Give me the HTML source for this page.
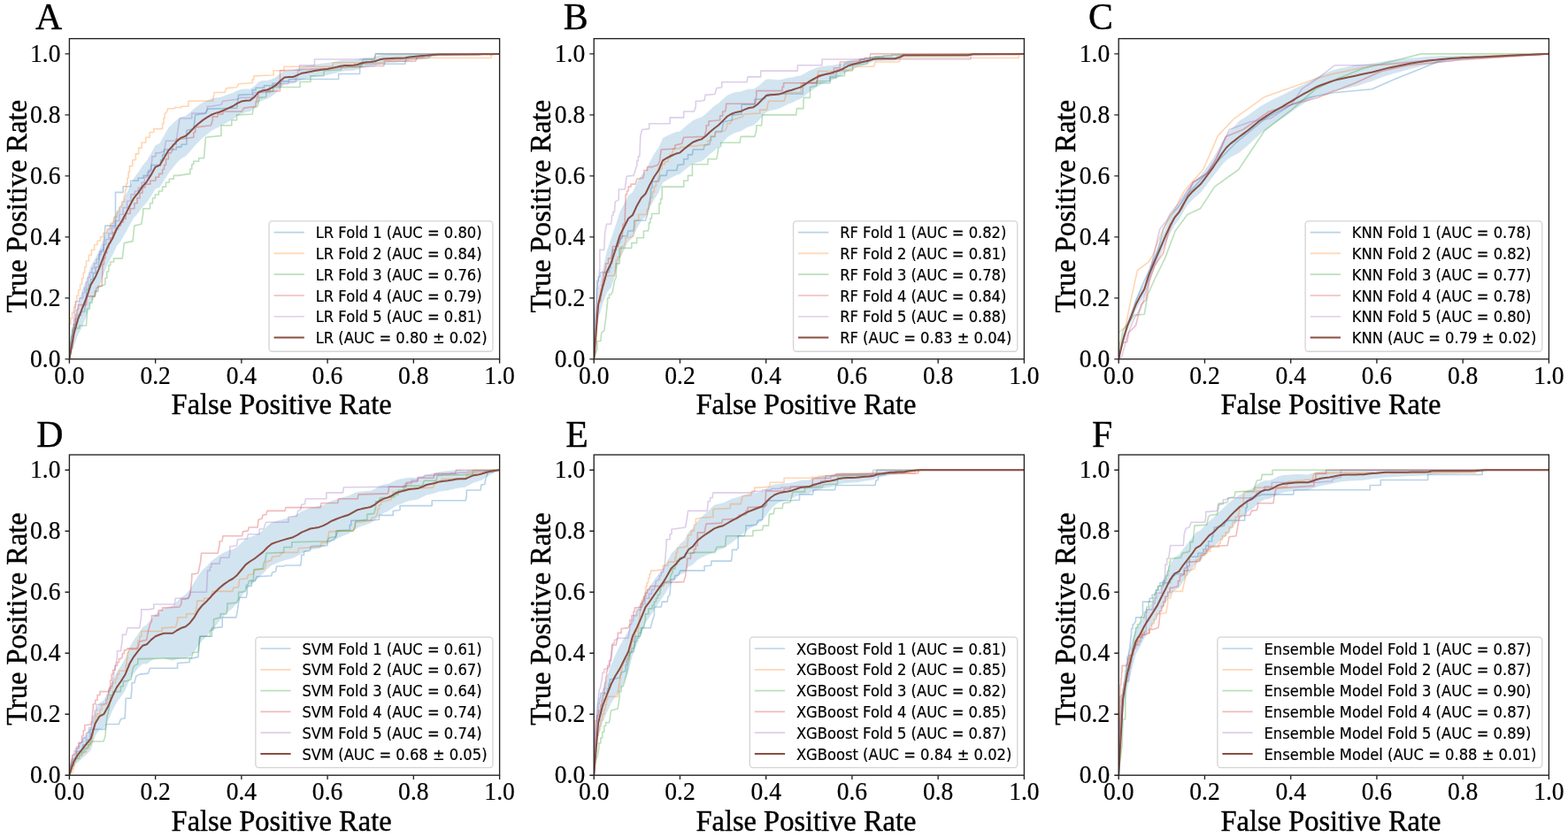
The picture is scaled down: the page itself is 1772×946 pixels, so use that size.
<!DOCTYPE html><html><head><meta charset="utf-8"><style>html,body{margin:0;padding:0;background:#fff;}svg{display:block}.tk{font-family:"Liberation Serif","Times New Roman",serif;font-size:27.6px;fill:#000;stroke:#000;stroke-width:0.2px}.lb{font-family:"Liberation Serif","Times New Roman",serif;font-size:32.5px;fill:#000;stroke:#000;stroke-width:0.4px}.pl{font-family:"Liberation Serif","Times New Roman",serif;font-size:41.8px;fill:#000;stroke:#000;stroke-width:0.4px}.lg{font-family:"DejaVu Sans",sans-serif;font-size:16.35px;fill:#000;stroke:#000;stroke-width:0.2px}</style></head><body>
<svg width="1772" height="946" viewBox="0 0 1772 946">
<rect width="1772" height="946" fill="#fff"/>
<g><clipPath id="clipA"><rect x="78.40" y="43.65" width="486.20" height="362.20"/></clipPath><g clip-path="url(#clipA)"><polygon fill="#1f77b4" fill-opacity="0.2" points="78.4,405.8 83.3,364.3 88.1,343.7 93.0,327.7 97.8,315.4 102.7,300.5 107.6,292.3 112.4,281.9 117.3,269.1 122.2,258.3 127.0,250.8 131.9,238.9 136.7,231.2 141.6,221.6 146.5,211.1 151.3,201.3 156.2,195.1 161.1,187.3 165.9,181.5 170.8,173.3 175.6,164.2 180.5,161.7 185.4,153.2 190.2,144.5 195.1,139.7 199.9,135.2 204.8,131.9 209.7,130.9 214.5,127.3 219.4,122.7 224.3,119.1 229.1,116.0 234.0,113.7 238.8,111.6 243.7,110.5 248.6,109.9 253.4,108.3 258.3,106.6 263.2,105.1 268.0,102.6 272.9,100.8 277.7,100.5 282.6,100.7 287.5,97.5 292.3,92.5 297.2,91.1 302.1,91.1 306.9,89.6 311.8,87.3 316.6,83.2 321.5,79.9 326.4,79.5 331.2,79.5 336.1,77.5 340.9,75.5 345.8,74.6 350.7,73.8 355.5,72.9 360.4,72.2 365.3,71.6 370.1,71.0 375.0,70.3 379.8,69.4 384.7,68.3 389.6,67.8 394.4,67.9 399.3,68.0 404.2,67.3 409.0,65.7 413.9,65.0 418.7,65.0 423.6,64.2 428.5,62.6 433.3,61.8 438.2,61.4 443.0,61.3 447.9,61.3 452.8,61.2 457.6,61.2 462.5,60.9 467.4,60.9 472.2,60.9 477.1,60.9 481.9,60.9 486.8,60.9 491.7,60.9 496.5,60.9 501.4,60.9 506.3,60.9 511.1,60.9 516.0,60.9 520.8,60.9 525.7,60.9 530.6,60.9 535.4,60.9 540.3,60.9 545.2,60.9 550.0,61.0 554.9,61.1 559.7,60.9 564.6,60.9 564.6,60.9 559.7,61.0 554.9,61.5 550.0,61.6 545.2,61.8 540.3,61.9 535.4,62.0 530.6,62.1 525.7,62.2 520.8,62.3 516.0,62.4 511.1,62.7 506.3,62.9 501.4,63.1 496.5,63.3 491.7,63.9 486.8,64.8 481.9,65.6 477.1,66.4 472.2,67.2 467.4,68.1 462.5,68.7 457.6,69.9 452.8,70.1 447.9,70.4 443.0,70.7 438.2,70.9 433.3,71.5 428.5,72.6 423.6,74.3 418.7,75.3 413.9,75.7 409.0,76.7 404.2,78.7 399.3,79.7 394.4,80.0 389.6,80.2 384.7,81.1 379.8,82.5 375.0,83.8 370.1,84.8 365.3,85.5 360.4,86.3 355.5,87.1 350.7,88.1 345.8,89.1 340.9,90.2 336.1,92.2 331.2,94.4 326.4,94.5 321.5,95.1 316.6,99.7 311.8,105.2 306.9,108.9 302.1,111.8 297.2,113.2 292.3,115.7 287.5,121.8 282.6,126.1 277.7,127.0 272.9,128.4 268.0,131.3 263.2,134.9 258.3,137.5 253.4,140.3 248.6,143.0 243.7,145.3 238.8,148.0 234.0,151.8 229.1,155.8 224.3,160.5 219.4,165.5 214.5,171.6 209.7,176.7 204.8,179.2 199.9,184.0 195.1,189.9 190.2,196.2 185.4,204.0 180.5,211.7 175.6,213.4 170.8,221.6 165.9,229.0 161.1,233.9 156.2,240.8 151.3,246.2 146.5,254.6 141.6,263.7 136.7,271.9 131.9,278.2 127.0,288.7 122.2,297.4 117.3,309.4 112.4,323.5 107.6,335.0 102.7,342.8 97.8,357.3 93.0,369.1 88.1,378.2 83.3,391.9 78.4,405.8"/><polyline fill="none" stroke="#1f77b4" stroke-opacity="0.32" stroke-width="1.6" stroke-linejoin="round" points="78.4,405.8 78.4,405.8 78.4,399.3 79.3,399.3 79.3,392.8 80.1,392.8 80.1,386.2 81.0,386.2 81.0,379.7 81.9,379.7 81.9,373.2 83.8,373.2 83.8,366.7 85.8,366.7 85.8,360.2 87.7,360.2 87.7,356.3 91.6,356.3 91.6,352.4 95.5,352.4 97.5,333.0 97.5,327.1 100.1,327.1 100.1,321.3 102.6,321.3 102.6,315.5 105.2,315.5 105.2,308.6 108.2,308.6 108.2,301.8 111.1,301.8 113.0,284.3 116.9,284.3 118.9,255.1 130.5,255.1 130.5,224.0 130.5,217.4 139.1,217.4 139.1,210.8 147.6,210.8 147.6,204.2 156.2,204.2 156.2,201.3 162.1,201.3 162.1,198.4 167.9,198.4 167.9,192.5 170.9,192.5 170.9,186.6 173.8,186.6 181.6,186.6 181.6,180.8 183.6,180.8 183.6,174.9 185.5,174.9 185.5,169.0 187.5,169.0 199.2,169.0 199.2,166.1 205.1,166.1 205.1,163.2 210.9,163.2 210.9,147.5 218.8,145.6 220.7,129.9 232.4,128.0 234.4,123.1 267.6,122.1 269.6,107.4 285.2,106.5 285.2,101.6 289.1,101.6 289.1,99.2 298.5,99.2 298.5,96.8 307.9,96.8 307.9,94.4 317.3,94.4 317.3,91.9 326.6,91.9 326.6,89.5 336.0,89.5 382.6,89.5 382.6,83.5 406.6,83.5 406.6,75.3 408.1,72.3 457.6,72.3 459.1,66.3 484.6,65.5 486.1,61.8 564.6,60.9 564.6,60.9"/><polyline fill="none" stroke="#ff7f0e" stroke-opacity="0.32" stroke-width="1.6" stroke-linejoin="round" points="78.4,405.8 78.4,366.1 78.4,366.1 79.9,366.1 79.9,359.7 81.6,359.7 81.6,353.4 83.4,353.4 83.4,347.1 85.1,347.1 85.1,340.8 86.8,340.8 86.8,334.3 88.7,334.3 88.7,327.8 90.6,327.8 90.6,321.3 92.6,321.3 92.6,314.8 94.2,314.8 94.2,308.3 95.8,308.3 95.8,301.8 97.5,301.8 97.5,295.0 100.4,295.0 100.4,288.2 103.3,288.2 103.3,282.4 106.7,282.4 106.7,276.5 110.1,276.5 110.1,272.2 113.5,272.2 113.5,267.8 116.9,267.8 116.9,263.4 120.8,263.4 120.8,259.0 124.7,259.0 124.7,252.2 128.6,252.2 128.6,245.4 132.5,245.4 132.5,239.6 135.1,239.6 135.1,233.7 137.7,233.7 137.7,227.9 140.3,227.9 140.3,221.2 141.5,221.2 141.5,214.5 142.7,214.5 142.7,207.8 144.0,207.8 144.0,201.1 145.2,201.1 145.2,194.4 146.4,194.4 146.4,187.6 149.8,187.6 149.8,180.8 153.3,180.8 153.3,173.9 156.7,173.9 156.7,167.1 160.1,167.1 160.1,161.2 164.7,161.2 164.7,155.3 169.2,155.3 169.2,149.5 173.8,149.5 173.8,145.6 183.6,145.6 183.6,139.7 184.9,139.7 184.9,133.8 186.2,133.8 186.2,128.0 187.5,128.0 189.4,124.1 189.4,122.8 197.3,122.8 197.3,121.5 205.1,121.5 205.1,120.2 212.9,120.2 212.9,114.3 222.7,114.3 240.3,114.3 242.2,104.5 254.0,104.5 255.9,99.6 267.6,98.7 269.6,94.7 285.2,93.8 285.2,89.9 286.7,89.9 286.7,85.9 288.2,85.9 300.0,85.3 308.7,85.0 309.0,85.0 309.0,79.8 310.6,79.8 321.0,79.8 321.0,75.3 375.8,75.3 376.6,70.8 433.6,70.8 433.6,68.5 433.6,68.0 443.1,68.0 443.1,67.5 452.6,67.5 452.6,67.0 462.1,67.0 462.1,66.5 471.6,66.5 471.6,66.0 481.1,66.0 481.1,65.5 490.6,65.5 555.2,65.5 555.2,61.8 564.6,60.9 564.6,60.9"/><polyline fill="none" stroke="#2ca02c" stroke-opacity="0.32" stroke-width="1.6" stroke-linejoin="round" points="78.4,405.8 78.4,405.8 79.9,385.5 81.9,373.8 81.9,370.9 89.7,370.9 89.7,368.0 97.5,368.0 98.4,356.3 98.4,349.2 101.4,349.2 101.4,342.1 104.3,342.1 104.3,334.9 107.2,334.9 107.2,329.1 111.1,329.1 111.1,323.2 115.0,323.2 118.9,321.3 118.9,314.2 120.8,314.2 120.8,307.0 122.8,307.0 122.8,299.9 124.7,299.9 124.7,296.0 128.6,296.0 128.6,292.1 132.5,292.1 138.3,292.1 140.3,274.6 150.0,272.6 151.9,255.1 159.7,253.2 161.7,241.5 161.7,235.7 169.5,235.7 169.5,229.8 172.4,229.8 172.4,224.0 175.3,224.0 175.3,220.0 179.4,220.0 179.4,216.0 183.6,216.0 183.6,211.1 187.5,211.1 187.5,206.2 191.4,206.2 191.4,202.3 196.3,202.3 196.3,198.4 201.2,198.4 214.9,196.4 214.9,191.0 216.8,191.0 216.8,185.7 218.8,185.7 218.8,182.2 224.6,182.2 224.6,178.8 230.5,178.8 232.4,155.3 250.0,153.4 250.0,141.7 261.8,141.7 261.8,135.8 267.6,135.8 267.6,129.9 285.2,129.0 286.2,122.1 291.1,120.2 293.1,110.4 300.0,109.8 300.9,108.4 300.9,103.5 308.7,103.5 308.7,98.5 316.5,98.5 339.0,98.5 339.0,92.5 351.0,92.5 351.0,85.8 366.0,85.8 366.0,79.8 385.6,79.0 385.6,75.3 408.8,75.3 410.3,67.0 423.1,67.0 424.6,60.9 564.6,60.9 564.6,60.9"/><polyline fill="none" stroke="#d62728" stroke-opacity="0.32" stroke-width="1.6" stroke-linejoin="round" points="78.4,405.8 78.4,405.8 78.4,399.6 80.1,399.6 80.1,393.3 81.9,393.3 81.9,386.7 82.7,386.7 82.7,380.1 83.4,380.1 83.4,373.4 84.2,373.4 84.2,366.8 85.0,366.8 85.0,360.2 85.8,360.2 85.8,355.0 87.1,355.0 87.1,349.8 88.4,349.8 88.4,344.6 89.7,344.6 97.5,344.6 98.4,334.9 107.2,334.9 109.1,325.2 115.0,323.2 115.9,305.7 115.9,298.9 117.4,298.9 117.4,292.1 118.9,292.1 118.9,286.3 120.8,286.3 120.8,280.4 122.8,280.4 122.8,274.6 124.7,274.6 124.7,268.8 127.6,268.8 127.6,262.9 130.5,262.9 130.5,259.0 133.5,259.0 133.5,255.1 136.4,255.1 136.4,251.2 139.3,251.2 139.3,247.4 142.2,247.4 142.2,241.5 147.1,241.5 147.1,235.7 151.9,235.7 151.9,229.8 155.0,229.8 155.0,223.9 158.0,223.9 158.0,218.0 161.0,218.0 161.0,212.0 164.0,212.0 164.0,208.1 169.9,208.1 169.9,204.2 175.8,204.2 175.8,200.3 179.7,200.3 179.7,196.4 183.6,196.4 183.6,191.5 185.5,191.5 185.5,186.6 187.5,186.6 187.5,179.8 190.4,179.8 190.4,172.9 193.3,172.9 195.3,169.0 195.3,163.2 199.2,163.2 199.2,157.3 203.1,157.3 218.8,155.3 218.8,149.5 220.7,149.5 220.7,143.6 222.7,143.6 238.3,141.7 240.3,135.8 240.3,131.9 246.1,131.9 246.1,129.0 252.0,129.0 252.0,126.0 257.9,126.0 273.5,126.0 275.5,122.1 289.1,120.2 289.1,114.9 290.4,114.9 290.4,109.7 291.8,109.7 291.8,104.5 293.1,104.5 300.0,103.0 312.6,103.0 316.5,103.0 316.5,79.8 316.5,79.8 340.5,79.0 340.5,78.5 350.9,78.5 350.9,78.0 361.2,78.0 361.2,77.5 371.6,77.5 371.6,77.0 381.9,77.0 381.9,76.5 392.2,76.5 392.2,76.0 402.6,76.0 402.6,75.5 412.9,75.5 412.9,75.0 423.3,75.0 423.3,74.5 433.6,74.5 435.1,69.3 469.6,69.3 471.1,65.5 471.1,64.3 479.1,64.3 479.1,63.0 487.1,63.0 487.1,61.8 495.1,61.8 564.6,60.9 564.6,60.9"/><polyline fill="none" stroke="#9467bd" stroke-opacity="0.32" stroke-width="1.6" stroke-linejoin="round" points="78.4,405.8 78.4,405.8 78.4,399.3 79.3,399.3 79.3,392.8 80.1,392.8 80.1,386.2 81.0,386.2 81.0,379.7 81.9,379.7 81.9,372.7 82.7,372.7 82.7,365.7 83.4,365.7 83.4,358.7 84.2,358.7 84.2,351.7 85.0,351.7 85.0,344.6 85.8,344.6 85.8,340.8 89.7,340.8 89.7,336.9 93.6,336.9 93.6,331.0 95.5,331.0 95.5,325.2 97.5,325.2 97.5,319.3 99.4,319.3 99.4,313.5 101.4,313.5 101.4,308.3 103.9,308.3 103.9,303.1 106.5,303.1 106.5,297.9 109.1,297.9 109.1,292.8 111.7,292.8 111.7,287.6 114.3,287.6 114.3,282.4 116.9,282.4 116.9,276.5 119.8,276.5 119.8,270.7 122.8,270.7 122.8,263.9 126.6,263.9 126.6,257.1 130.5,257.1 130.5,249.6 134.9,249.6 134.9,242.2 139.2,242.2 139.2,234.8 143.6,234.8 143.6,227.3 147.9,227.3 147.9,219.9 152.3,219.9 152.3,216.0 156.2,216.0 156.2,212.0 160.1,212.0 160.1,206.2 163.4,206.2 163.4,200.3 166.6,200.3 166.6,194.4 169.9,194.4 171.8,180.8 171.8,176.9 175.8,176.9 175.8,172.9 179.7,172.9 185.5,171.0 187.5,159.3 199.2,159.3 201.2,145.6 203.1,133.8 216.8,133.8 216.8,128.0 222.7,128.0 232.4,128.0 234.4,124.1 234.4,120.2 238.3,120.2 250.0,118.2 252.0,114.3 267.6,112.3 271.5,110.4 285.2,110.4 287.2,104.5 304.8,104.5 304.8,98.7 308.7,98.7 309.0,98.7 309.0,96.6 317.5,96.6 317.5,94.6 326.0,94.6 326.0,92.5 334.5,92.5 334.5,86.3 336.5,86.3 336.5,80.0 338.5,80.0 338.5,73.8 340.5,73.8 355.5,73.8 355.5,67.0 423.1,67.0 424.6,60.9 564.6,60.9 564.6,60.9"/><polyline fill="none" stroke="#8a4f43" stroke-opacity="1" stroke-width="2.0" stroke-linejoin="round" stroke-linecap="round" points="78.4,405.8 83.3,378.1 88.1,361.0 93.0,348.4 97.8,336.4 102.7,321.7 107.6,313.6 112.4,302.7 117.3,289.3 122.2,277.9 127.0,269.8 131.9,258.5 136.7,251.5 141.6,242.6 146.5,232.8 151.3,223.8 156.2,217.9 161.1,210.6 165.9,205.3 170.8,197.4 175.6,188.8 180.5,186.7 185.4,178.6 190.2,170.3 195.1,164.8 199.9,159.6 204.8,155.6 209.7,153.8 214.5,149.4 219.4,144.1 224.3,139.8 229.1,135.9 234.0,132.7 238.8,129.8 243.7,127.9 248.6,126.5 253.4,124.3 258.3,122.1 263.2,120.0 268.0,116.9 272.9,114.6 277.7,113.7 282.6,113.4 287.5,109.7 292.3,104.1 297.2,102.2 302.1,101.5 306.9,99.3 311.8,96.2 316.6,91.5 321.5,87.5 326.4,87.0 331.2,87.0 336.1,84.9 340.9,82.8 345.8,81.9 350.7,81.0 355.5,80.0 360.4,79.2 365.3,78.6 370.1,77.9 375.0,77.0 379.8,75.9 384.7,74.7 389.6,74.0 394.4,73.9 399.3,73.8 404.2,73.0 409.0,71.2 413.9,70.3 418.7,70.1 423.6,69.3 428.5,67.6 433.3,66.6 438.2,66.2 443.0,66.0 447.9,65.8 452.8,65.7 457.6,65.5 462.5,64.4 467.4,63.9 472.2,63.5 477.1,63.1 481.9,62.7 486.8,62.3 491.7,61.8 496.5,61.5 501.4,61.4 506.3,61.4 511.1,61.4 516.0,61.4 520.8,61.4 525.7,61.4 530.6,61.4 535.4,61.4 540.3,61.4 545.2,61.3 550.0,61.3 554.9,61.3 559.7,60.9 564.6,60.9"/></g><rect x="78.40" y="43.65" width="486.20" height="362.20" fill="none" stroke="#222" stroke-width="1.35"/><path d="M78.40 405.85V410.75M78.40 405.85H73.50M175.64 405.85V410.75M78.40 336.86H73.50M272.88 405.85V410.75M78.40 267.87H73.50M370.12 405.85V410.75M78.40 198.88H73.50M467.36 405.85V410.75M78.40 129.89H73.50M564.60 405.85V410.75M78.40 60.90H73.50" stroke="#222" stroke-width="1.35" fill="none"/><text class="tk" transform="translate(78.40,433.65) scale(1,1.045)" text-anchor="middle">0.0</text><text class="tk" transform="translate(68.50,414.95) scale(1,1.045)" text-anchor="end">0.0</text><text class="tk" transform="translate(175.64,433.65) scale(1,1.045)" text-anchor="middle">0.2</text><text class="tk" transform="translate(68.50,345.96) scale(1,1.045)" text-anchor="end">0.2</text><text class="tk" transform="translate(272.88,433.65) scale(1,1.045)" text-anchor="middle">0.4</text><text class="tk" transform="translate(68.50,276.97) scale(1,1.045)" text-anchor="end">0.4</text><text class="tk" transform="translate(370.12,433.65) scale(1,1.045)" text-anchor="middle">0.6</text><text class="tk" transform="translate(68.50,207.98) scale(1,1.045)" text-anchor="end">0.6</text><text class="tk" transform="translate(467.36,433.65) scale(1,1.045)" text-anchor="middle">0.8</text><text class="tk" transform="translate(68.50,138.99) scale(1,1.045)" text-anchor="end">0.8</text><text class="tk" transform="translate(564.60,433.65) scale(1,1.045)" text-anchor="middle">1.0</text><text class="tk" transform="translate(68.50,70.00) scale(1,1.045)" text-anchor="end">1.0</text><text class="lb" transform="translate(318.10,468.15) scale(1,1.025)" text-anchor="middle">False Positive Rate</text><text class="lb" transform="translate(29.60,233.25) rotate(-90) scale(1,1.025)" text-anchor="middle">True Positive Rate</text><text class="pl" x="40.01" y="33.30">A</text><rect x="304.06" y="249.85" width="252.89" height="147.40" rx="3.5" fill="#fff" fill-opacity="0.8" stroke="#d4d4d4" stroke-width="1.3"/><line x1="309.56" x2="343.86" y1="262.65" y2="262.65" stroke="#1f77b4" stroke-opacity="0.32" stroke-width="1.7"/><text class="lg" transform="translate(356.66,269.25) scale(1,1.04)">LR Fold 1 (AUC = 0.80)</text><line x1="309.56" x2="343.86" y1="286.43" y2="286.43" stroke="#ff7f0e" stroke-opacity="0.32" stroke-width="1.7"/><text class="lg" transform="translate(356.66,293.03) scale(1,1.04)">LR Fold 2 (AUC = 0.84)</text><line x1="309.56" x2="343.86" y1="310.21" y2="310.21" stroke="#2ca02c" stroke-opacity="0.32" stroke-width="1.7"/><text class="lg" transform="translate(356.66,316.81) scale(1,1.04)">LR Fold 3 (AUC = 0.76)</text><line x1="309.56" x2="343.86" y1="333.99" y2="333.99" stroke="#d62728" stroke-opacity="0.32" stroke-width="1.7"/><text class="lg" transform="translate(356.66,340.59) scale(1,1.04)">LR Fold 4 (AUC = 0.79)</text><line x1="309.56" x2="343.86" y1="357.77" y2="357.77" stroke="#9467bd" stroke-opacity="0.32" stroke-width="1.7"/><text class="lg" transform="translate(356.66,364.37) scale(1,1.04)">LR Fold 5 (AUC = 0.81)</text><line x1="309.56" x2="343.86" y1="381.55" y2="381.55" stroke="#8a4f43" stroke-opacity="1" stroke-width="2.0"/><text class="lg" transform="translate(356.66,388.15) scale(1,1.04)">LR (AUC = 0.80 &#177; 0.02)</text></g>
<g><clipPath id="clipB"><rect x="671.20" y="43.65" width="486.20" height="362.20"/></clipPath><g clip-path="url(#clipB)"><polygon fill="#1f77b4" fill-opacity="0.2" points="671.2,405.8 676.1,327.2 680.9,305.6 685.8,283.8 690.6,269.8 695.5,255.2 700.4,239.7 705.2,230.4 710.1,221.1 715.0,217.1 719.8,206.6 724.7,198.0 729.5,193.1 734.4,182.9 739.3,173.8 744.1,167.2 749.0,156.0 753.9,153.4 758.7,151.3 763.6,149.3 768.4,148.5 773.3,144.0 778.2,140.0 783.0,136.2 787.9,134.1 792.8,132.6 797.6,128.8 802.5,123.9 807.3,119.8 812.2,116.5 817.1,112.1 821.9,107.7 826.8,105.4 831.6,104.1 836.5,103.8 841.4,102.1 846.2,100.6 851.1,100.7 856.0,98.1 860.8,93.9 865.7,89.8 870.5,89.5 875.4,89.9 880.3,90.3 885.1,89.5 890.0,88.1 894.9,87.5 899.7,86.3 904.6,85.4 909.4,83.0 914.3,80.1 919.2,78.1 924.0,76.2 928.9,75.0 933.7,74.5 938.6,74.0 943.5,73.2 948.3,72.4 953.2,70.9 958.1,68.7 962.9,67.8 967.8,67.1 972.6,66.4 977.5,65.8 982.4,65.2 987.2,64.1 992.1,63.6 997.0,63.8 1001.8,63.9 1006.7,64.1 1011.5,64.2 1016.4,62.8 1021.3,60.9 1026.1,60.9 1031.0,61.0 1035.8,61.1 1040.7,61.2 1045.6,61.2 1050.4,61.3 1055.3,61.4 1060.2,61.4 1065.0,61.5 1069.9,61.5 1074.7,61.6 1079.6,61.6 1084.5,61.7 1089.3,61.7 1094.2,61.8 1099.1,60.9 1103.9,60.9 1108.8,60.9 1113.6,60.9 1118.5,60.9 1123.4,60.9 1128.2,61.0 1133.1,61.0 1138.0,61.1 1142.8,61.1 1147.7,61.2 1152.5,61.1 1157.4,60.9 1157.4,60.9 1152.5,61.2 1147.7,61.4 1142.8,61.5 1138.0,61.5 1133.1,61.6 1128.2,61.6 1123.4,61.7 1118.5,61.8 1113.6,61.8 1108.8,61.9 1103.9,61.9 1099.1,62.0 1094.2,63.2 1089.3,63.3 1084.5,63.3 1079.6,63.4 1074.7,63.5 1069.9,63.5 1065.0,63.6 1060.2,63.6 1055.3,63.7 1050.4,63.7 1045.6,63.8 1040.7,63.8 1035.8,63.9 1031.0,64.0 1026.1,64.2 1021.3,64.3 1016.4,66.7 1011.5,68.3 1006.7,68.5 1001.8,68.6 997.0,68.7 992.1,68.9 987.2,69.6 982.4,71.6 977.5,73.2 972.6,74.8 967.8,76.5 962.9,78.2 958.1,80.5 953.2,84.0 948.3,86.9 943.5,89.1 938.6,91.2 933.7,93.1 928.9,95.0 924.0,97.5 919.2,100.9 914.3,104.3 909.4,108.3 904.6,111.8 899.7,113.8 894.9,116.2 890.0,118.0 885.1,120.5 880.3,122.8 875.4,123.9 870.5,124.9 865.7,126.7 860.8,132.3 856.0,137.9 851.1,142.0 846.2,143.3 841.4,145.8 836.5,148.5 831.6,149.8 826.8,152.0 821.9,155.3 817.1,160.6 812.2,165.9 807.3,170.2 802.5,174.0 797.6,178.7 792.8,182.2 787.9,183.4 783.0,185.2 778.2,188.8 773.3,192.6 768.4,196.8 763.6,198.2 758.7,200.7 753.9,203.4 749.0,206.6 744.1,218.3 739.3,225.6 734.4,234.7 729.5,244.9 724.7,249.7 719.8,258.3 715.0,268.8 710.1,272.9 705.2,283.0 700.4,293.2 695.5,309.6 690.6,325.0 685.8,330.7 680.9,344.2 676.1,360.8 671.2,405.8"/><polyline fill="none" stroke="#1f77b4" stroke-opacity="0.32" stroke-width="1.6" stroke-linejoin="round" points="671.2,405.8 671.2,405.8 672.9,360.2 674.9,321.3 674.9,317.4 676.4,317.4 676.4,313.5 677.8,313.5 678.8,307.7 688.5,307.7 688.5,302.8 690.0,302.8 690.0,297.9 691.4,297.9 692.4,286.3 692.4,282.4 696.3,282.4 696.3,278.5 698.2,278.5 698.2,274.6 700.2,274.6 702.1,266.8 708.9,266.8 709.9,261.0 715.8,261.0 716.7,255.1 716.7,249.3 719.6,249.3 729.4,249.3 731.3,243.5 733.3,233.7 735.5,219.9 735.5,212.5 737.0,212.5 737.0,205.2 738.4,205.2 744.3,205.2 746.3,198.4 753.1,198.4 754.1,192.5 764.8,192.5 765.8,186.6 772.7,185.7 772.7,179.8 777.5,179.8 777.5,174.9 782.4,174.9 783.4,169.0 795.1,169.0 796.1,164.1 802.0,163.2 803.0,157.3 803.0,154.4 807.9,154.4 808.8,148.5 815.7,148.5 817.6,137.8 827.4,135.8 827.4,129.9 830.3,129.9 838.2,129.0 838.2,118.2 852.8,118.2 852.8,112.3 855.8,112.3 864.5,111.4 866.5,106.5 893.0,106.0 905.6,106.0 907.3,106.0 907.3,94.0 907.6,94.0 938.0,94.0 938.0,89.5 938.0,86.5 944.0,86.5 945.5,82.0 945.5,79.0 953.0,79.0 954.5,72.3 971.1,71.5 972.6,67.0 983.1,65.5 989.1,64.0 1017.6,62.5 1157.4,60.9 1157.4,60.9"/><polyline fill="none" stroke="#ff7f0e" stroke-opacity="0.32" stroke-width="1.6" stroke-linejoin="round" points="671.2,405.8 671.2,405.8 673.9,360.2 673.9,353.4 675.1,353.4 675.1,346.6 676.4,346.6 676.4,339.8 677.6,339.8 677.6,333.0 678.8,333.0 678.8,327.1 680.7,327.1 680.7,321.3 682.7,321.3 682.7,316.4 684.6,316.4 684.6,311.6 686.6,311.6 694.4,311.6 696.3,297.9 696.3,294.1 698.2,294.1 698.2,290.2 700.2,290.2 702.1,284.3 702.1,278.5 705.1,278.5 707.0,272.6 707.0,268.8 709.9,268.8 715.8,266.8 717.7,253.2 717.7,249.3 721.6,249.3 721.6,242.5 725.5,242.5 731.3,242.5 731.3,236.2 733.3,236.2 733.3,229.8 735.2,229.8 735.2,223.4 737.3,223.4 737.3,216.9 739.4,216.9 739.4,210.6 741.4,210.6 741.4,204.2 743.3,204.2 745.3,196.4 745.3,191.0 748.2,191.0 748.2,185.7 751.2,185.7 751.2,182.7 755.1,182.7 755.1,178.8 757.0,178.8 757.0,174.9 759.0,174.9 760.9,169.0 760.9,167.7 768.8,167.7 768.8,166.4 776.6,166.4 776.6,165.1 784.4,165.1 800.0,163.2 800.0,158.8 803.9,158.8 803.9,154.4 807.9,154.4 807.9,149.5 813.7,149.5 819.6,147.5 821.5,143.6 821.5,139.7 825.4,139.7 827.4,135.8 833.3,133.8 839.1,131.9 841.1,129.0 858.7,128.0 858.7,124.1 861.6,124.1 866.5,124.1 868.5,114.3 886.1,114.3 888.0,108.4 888.0,104.5 893.0,104.5 893.9,104.5 905.0,104.5 905.0,94.0 905.6,94.0 923.0,92.5 924.5,86.5 924.5,80.5 935.0,80.5 953.0,80.5 954.5,79.0 963.5,79.0 965.1,75.3 987.6,75.3 989.1,70.0 1016.1,70.0 1017.6,65.5 1151.2,65.5 1151.2,61.8 1154.2,61.8 1157.4,60.9 1157.4,60.9"/><polyline fill="none" stroke="#2ca02c" stroke-opacity="0.32" stroke-width="1.6" stroke-linejoin="round" points="671.2,405.8 671.2,405.8 672.9,399.1 674.9,395.2 674.9,385.5 678.8,385.5 679.8,375.8 682.7,373.8 684.6,360.2 686.6,340.8 686.6,336.9 688.5,336.9 688.5,333.0 690.5,333.0 692.4,329.1 694.4,317.4 696.3,313.5 696.3,301.8 696.3,297.9 700.2,297.9 700.2,280.4 713.8,280.4 713.8,274.6 719.6,274.6 719.6,268.8 727.4,268.8 727.4,261.0 732.3,261.0 733.3,257.1 733.3,251.9 734.9,251.9 734.9,246.7 736.5,246.7 736.5,241.5 738.1,241.5 744.9,241.5 744.9,235.7 744.9,230.3 746.6,230.3 746.6,224.9 748.2,224.9 748.2,211.1 748.8,211.1 772.7,211.1 772.7,204.2 777.5,204.2 777.5,198.4 782.4,198.4 782.4,185.7 800.0,185.7 800.0,179.8 809.8,179.8 810.8,174.9 811.8,167.1 814.7,165.1 814.7,161.2 836.2,161.2 837.2,154.4 852.8,154.4 854.8,147.5 854.8,141.7 860.6,141.7 861.6,129.9 899.7,129.9 900.5,122.6 900.7,122.6 908.0,122.6 908.0,110.5 908.5,110.5 908.5,110.4 915.5,110.4 915.5,98.5 923.0,97.0 923.0,91.8 938.0,91.8 938.0,88.0 945.5,88.0 945.5,85.8 954.5,85.8 954.5,80.5 963.5,79.8 963.5,73.0 966.6,73.0 980.1,72.3 980.1,67.8 983.1,67.8 983.1,65.5 989.1,65.5 989.1,64.3 998.6,64.3 998.6,63.0 1008.1,63.0 1008.1,61.8 1017.6,61.8 1157.4,60.9 1157.4,60.9"/><polyline fill="none" stroke="#d62728" stroke-opacity="0.32" stroke-width="1.6" stroke-linejoin="round" points="671.2,405.8 671.2,405.8 672.9,399.1 674.9,360.2 676.8,340.8 678.8,340.8 678.8,334.5 679.6,334.5 679.6,328.3 680.3,328.3 680.3,322.1 681.1,322.1 681.1,315.8 681.9,315.8 681.9,309.6 682.7,309.6 684.6,301.8 684.6,297.9 687.5,297.9 687.5,292.1 690.5,292.1 692.4,282.4 692.4,278.5 698.2,278.5 700.2,270.7 703.1,268.8 704.1,253.2 706.0,253.2 707.0,224.0 707.0,220.0 708.5,220.0 708.5,216.0 710.1,216.0 710.1,211.1 713.0,211.1 713.0,208.1 717.9,208.1 719.9,202.3 726.7,201.3 727.7,197.4 727.7,192.5 731.6,192.5 731.6,188.6 737.5,188.6 743.3,186.6 745.3,182.7 747.2,169.0 762.9,168.1 762.9,164.1 770.7,162.2 772.7,155.3 796.1,154.4 798.1,146.5 798.1,141.7 801.0,141.7 801.0,136.8 803.9,136.8 813.7,135.8 813.7,130.9 816.7,130.9 816.7,126.0 819.6,126.0 820.6,121.1 820.6,117.2 825.4,117.2 853.8,117.2 854.8,107.4 854.8,102.6 863.6,102.6 884.1,102.6 884.1,98.2 885.6,98.2 885.6,93.8 887.0,93.8 893.0,93.8 923.0,93.8 924.5,85.0 942.5,83.5 942.5,76.8 949.3,76.8 949.3,70.0 956.0,70.0 971.1,69.3 971.1,67.4 977.1,67.4 977.1,65.5 983.1,65.5 983.8,60.9 1157.4,60.9 1157.4,60.9"/><polyline fill="none" stroke="#9467bd" stroke-opacity="0.32" stroke-width="1.6" stroke-linejoin="round" points="671.2,405.8 671.2,405.8 672.0,399.1 672.9,369.9 674.9,333.0 674.9,326.2 675.6,326.2 675.6,319.3 676.4,319.3 676.4,312.5 677.1,312.5 677.1,305.7 677.8,305.7 677.8,286.3 677.8,282.4 682.7,282.4 683.6,262.9 685.6,253.2 690.5,253.2 691.4,247.4 691.4,243.5 692.9,243.5 692.9,239.6 694.4,239.6 695.3,227.9 699.2,225.9 699.3,218.9 699.3,214.0 706.2,214.0 708.1,199.3 716.0,198.4 717.9,192.5 719.9,186.6 719.9,181.7 721.3,181.7 721.3,176.9 722.8,176.9 723.8,153.4 725.7,146.5 733.6,145.6 733.6,139.7 757.0,139.7 757.0,132.9 772.7,132.9 772.7,126.0 784.4,126.0 786.3,120.2 786.3,114.3 791.2,114.3 796.1,113.3 797.1,107.4 807.9,106.5 809.8,99.6 815.7,98.7 815.7,92.8 844.0,92.8 845.0,86.9 859.7,86.9 859.7,80.1 893.0,80.1 901.3,80.1 901.3,73.8 901.7,73.8 901.7,73.8 929.0,73.8 929.0,67.0 1097.1,67.0 1097.1,61.8 1157.4,60.9 1157.4,60.9"/><polyline fill="none" stroke="#8a4f43" stroke-opacity="1" stroke-width="2.0" stroke-linejoin="round" stroke-linecap="round" points="671.2,405.8 676.1,344.0 680.9,324.9 685.8,307.3 690.6,297.4 695.5,282.4 700.4,266.4 705.2,256.7 710.1,247.0 715.0,243.0 719.8,232.4 724.7,223.8 729.5,219.0 734.4,208.8 739.3,199.7 744.1,192.8 749.0,181.3 753.9,178.4 758.7,176.0 763.6,173.8 768.4,172.6 773.3,168.3 778.2,164.4 783.0,160.7 787.9,158.7 792.8,157.4 797.6,153.8 802.5,149.0 807.3,145.0 812.2,141.2 817.1,136.4 821.9,131.5 826.8,128.7 831.6,126.9 836.5,126.1 841.4,123.9 846.2,122.0 851.1,121.3 856.0,118.0 860.8,113.1 865.7,108.3 870.5,107.2 875.4,106.9 880.3,106.6 885.1,105.0 890.0,103.0 894.9,101.8 899.7,100.1 904.6,98.6 909.4,95.7 914.3,92.2 919.2,89.5 924.0,86.8 928.9,85.0 933.7,83.8 938.6,82.6 943.5,81.1 948.3,79.7 953.2,77.5 958.1,74.6 962.9,73.0 967.8,71.8 972.6,70.6 977.5,69.5 982.4,68.4 987.2,66.8 992.1,66.3 997.0,66.3 1001.8,66.3 1006.7,66.3 1011.5,66.3 1016.4,64.8 1021.3,62.5 1026.1,62.5 1031.0,62.5 1035.8,62.5 1040.7,62.5 1045.6,62.5 1050.4,62.5 1055.3,62.5 1060.2,62.5 1065.0,62.5 1069.9,62.5 1074.7,62.5 1079.6,62.5 1084.5,62.5 1089.3,62.5 1094.2,62.5 1099.1,61.3 1103.9,61.3 1108.8,61.3 1113.6,61.3 1118.5,61.3 1123.4,61.3 1128.2,61.3 1133.1,61.3 1138.0,61.3 1142.8,61.3 1147.7,61.3 1152.5,61.1 1157.4,60.9"/></g><rect x="671.20" y="43.65" width="486.20" height="362.20" fill="none" stroke="#222" stroke-width="1.35"/><path d="M671.20 405.85V410.75M671.20 405.85H666.30M768.44 405.85V410.75M671.20 336.86H666.30M865.68 405.85V410.75M671.20 267.87H666.30M962.92 405.85V410.75M671.20 198.88H666.30M1060.16 405.85V410.75M671.20 129.89H666.30M1157.40 405.85V410.75M671.20 60.90H666.30" stroke="#222" stroke-width="1.35" fill="none"/><text class="tk" transform="translate(671.20,433.65) scale(1,1.045)" text-anchor="middle">0.0</text><text class="tk" transform="translate(661.30,414.95) scale(1,1.045)" text-anchor="end">0.0</text><text class="tk" transform="translate(768.44,433.65) scale(1,1.045)" text-anchor="middle">0.2</text><text class="tk" transform="translate(661.30,345.96) scale(1,1.045)" text-anchor="end">0.2</text><text class="tk" transform="translate(865.68,433.65) scale(1,1.045)" text-anchor="middle">0.4</text><text class="tk" transform="translate(661.30,276.97) scale(1,1.045)" text-anchor="end">0.4</text><text class="tk" transform="translate(962.92,433.65) scale(1,1.045)" text-anchor="middle">0.6</text><text class="tk" transform="translate(661.30,207.98) scale(1,1.045)" text-anchor="end">0.6</text><text class="tk" transform="translate(1060.16,433.65) scale(1,1.045)" text-anchor="middle">0.8</text><text class="tk" transform="translate(661.30,138.99) scale(1,1.045)" text-anchor="end">0.8</text><text class="tk" transform="translate(1157.40,433.65) scale(1,1.045)" text-anchor="middle">1.0</text><text class="tk" transform="translate(661.30,70.00) scale(1,1.045)" text-anchor="end">1.0</text><text class="lb" transform="translate(910.90,468.15) scale(1,1.025)" text-anchor="middle">False Positive Rate</text><text class="lb" transform="translate(622.40,233.25) rotate(-90) scale(1,1.025)" text-anchor="middle">True Positive Rate</text><text class="pl" x="636.83" y="33.30">B</text><rect x="896.56" y="249.85" width="253.19" height="147.40" rx="3.5" fill="#fff" fill-opacity="0.8" stroke="#d4d4d4" stroke-width="1.3"/><line x1="902.06" x2="936.36" y1="262.65" y2="262.65" stroke="#1f77b4" stroke-opacity="0.32" stroke-width="1.7"/><text class="lg" transform="translate(949.16,269.25) scale(1,1.04)">RF Fold 1 (AUC = 0.82)</text><line x1="902.06" x2="936.36" y1="286.43" y2="286.43" stroke="#ff7f0e" stroke-opacity="0.32" stroke-width="1.7"/><text class="lg" transform="translate(949.16,293.03) scale(1,1.04)">RF Fold 2 (AUC = 0.81)</text><line x1="902.06" x2="936.36" y1="310.21" y2="310.21" stroke="#2ca02c" stroke-opacity="0.32" stroke-width="1.7"/><text class="lg" transform="translate(949.16,316.81) scale(1,1.04)">RF Fold 3 (AUC = 0.78)</text><line x1="902.06" x2="936.36" y1="333.99" y2="333.99" stroke="#d62728" stroke-opacity="0.32" stroke-width="1.7"/><text class="lg" transform="translate(949.16,340.59) scale(1,1.04)">RF Fold 4 (AUC = 0.84)</text><line x1="902.06" x2="936.36" y1="357.77" y2="357.77" stroke="#9467bd" stroke-opacity="0.32" stroke-width="1.7"/><text class="lg" transform="translate(949.16,364.37) scale(1,1.04)">RF Fold 5 (AUC = 0.88)</text><line x1="902.06" x2="936.36" y1="381.55" y2="381.55" stroke="#8a4f43" stroke-opacity="1" stroke-width="2.0"/><text class="lg" transform="translate(949.16,388.15) scale(1,1.04)">RF (AUC = 0.83 &#177; 0.04)</text></g>
<g><clipPath id="clipC"><rect x="1264.20" y="43.65" width="486.20" height="362.20"/></clipPath><g clip-path="url(#clipC)"><polygon fill="#1f77b4" fill-opacity="0.2" points="1264.2,405.8 1269.1,379.5 1273.9,362.9 1278.8,350.3 1283.6,337.8 1288.5,328.0 1293.4,319.3 1298.2,303.5 1303.1,291.5 1308.0,279.9 1312.8,268.2 1317.7,256.8 1322.5,246.2 1327.4,237.3 1332.3,231.2 1337.1,222.7 1342.0,214.1 1346.9,208.2 1351.7,203.3 1356.6,198.7 1361.4,192.4 1366.3,185.4 1371.2,178.5 1376.0,169.9 1380.9,160.7 1385.8,152.9 1390.6,147.0 1395.5,141.9 1400.3,136.8 1405.2,133.7 1410.1,130.5 1414.9,127.1 1419.8,123.6 1424.6,120.1 1429.5,117.3 1434.4,114.5 1439.2,112.0 1444.1,109.7 1449.0,107.4 1453.8,105.0 1458.7,102.6 1463.5,100.1 1468.4,97.7 1473.3,95.4 1478.1,93.2 1483.0,90.2 1487.9,87.3 1492.7,85.1 1497.6,83.1 1502.4,81.0 1507.3,79.0 1512.2,77.8 1517.0,76.7 1521.9,75.7 1526.7,74.6 1531.6,73.6 1536.5,73.1 1541.3,72.7 1546.2,72.2 1551.1,71.6 1555.9,70.9 1560.8,70.0 1565.6,69.1 1570.5,68.3 1575.4,67.8 1580.2,67.2 1585.1,66.6 1590.0,66.1 1594.8,65.6 1599.7,65.2 1604.5,64.9 1609.4,64.3 1614.3,64.0 1619.1,63.7 1624.0,63.4 1628.8,63.1 1633.7,62.9 1638.6,62.9 1643.4,62.8 1648.3,62.7 1653.2,62.7 1658.0,62.7 1662.9,62.6 1667.7,62.5 1672.6,62.5 1677.5,62.4 1682.3,62.4 1687.2,62.3 1692.1,62.2 1696.9,62.1 1701.8,61.9 1706.6,61.8 1711.5,61.7 1716.4,61.6 1721.2,61.5 1726.1,61.4 1731.0,61.3 1735.8,61.2 1740.7,61.1 1745.5,61.0 1750.4,60.9 1750.4,60.9 1745.5,61.2 1740.7,61.5 1735.8,61.8 1731.0,62.1 1726.1,62.4 1721.2,62.7 1716.4,63.0 1711.5,63.3 1706.6,63.7 1701.8,64.0 1696.9,64.4 1692.1,64.8 1687.2,65.2 1682.3,65.5 1677.5,65.9 1672.6,66.2 1667.7,66.6 1662.9,66.9 1658.0,67.2 1653.2,67.5 1648.3,68.1 1643.4,68.7 1638.6,69.4 1633.7,70.0 1628.8,70.7 1624.0,71.5 1619.1,72.4 1614.3,73.3 1609.4,74.1 1604.5,75.2 1599.7,76.4 1594.8,77.6 1590.0,78.9 1585.1,80.3 1580.2,81.7 1575.4,83.1 1570.5,84.5 1565.6,86.0 1560.8,87.8 1555.9,89.5 1551.1,91.4 1546.2,93.0 1541.3,94.6 1536.5,96.2 1531.6,97.7 1526.7,98.8 1521.9,99.8 1517.0,100.9 1512.2,101.9 1507.3,103.2 1502.4,104.6 1497.6,106.0 1492.7,107.5 1487.9,109.1 1483.0,111.5 1478.1,113.9 1473.3,117.1 1468.4,120.2 1463.5,123.6 1458.7,127.0 1453.8,130.4 1449.0,133.8 1444.1,137.0 1439.2,140.3 1434.4,143.7 1429.5,147.4 1424.6,151.1 1419.8,155.6 1414.9,160.1 1410.1,164.4 1405.2,168.6 1400.3,172.7 1395.5,175.3 1390.6,177.8 1385.8,181.2 1380.9,186.5 1376.0,193.1 1371.2,199.2 1366.3,205.6 1361.4,212.1 1356.6,217.9 1351.7,222.0 1346.9,226.5 1342.0,231.8 1337.1,239.9 1332.3,248.5 1327.4,254.6 1322.5,263.4 1317.7,274.1 1312.8,285.4 1308.0,296.4 1303.1,307.4 1298.2,318.7 1293.4,333.8 1288.5,341.8 1283.6,350.7 1278.8,362.4 1273.9,374.1 1269.1,389.9 1264.2,405.8"/><polyline fill="none" stroke="#1f77b4" stroke-opacity="0.32" stroke-width="1.6" stroke-linejoin="round" points="1264.2,405.8 1264.2,405.8 1265.0,399.1 1269.8,379.7 1277.6,360.2 1283.5,340.8 1291.2,321.3 1299.0,305.7 1308.8,282.4 1314.6,259.0 1322.4,243.5 1330.2,235.7 1340.2,221.8 1373.5,184.7 1396.9,161.2 1430.2,133.8 1459.5,118.2 1479.1,110.4 1508.0,104.5 1510.0,104.5 1550.5,100.8 1576.1,89.5 1606.1,77.5 1624.1,70.0 1636.1,67.0 1750.4,60.9 1750.4,60.9"/><polyline fill="none" stroke="#ff7f0e" stroke-opacity="0.32" stroke-width="1.6" stroke-linejoin="round" points="1264.2,405.8 1264.2,375.8 1264.2,375.8 1271.8,369.9 1277.6,340.8 1285.4,305.7 1298.1,296.0 1302.9,288.2 1308.8,272.6 1314.6,259.0 1320.4,249.3 1328.2,235.7 1333.4,224.9 1338.3,216.0 1359.8,191.5 1376.4,153.4 1395.0,133.8 1429.2,109.4 1459.5,98.7 1486.9,88.9 1508.0,83.0 1510.0,82.8 1531.0,78.3 1553.5,73.8 1576.1,72.3 1606.1,70.0 1630.1,67.0 1681.1,63.3 1750.4,60.9 1750.4,60.9"/><polyline fill="none" stroke="#2ca02c" stroke-opacity="0.32" stroke-width="1.6" stroke-linejoin="round" points="1264.2,405.8 1264.2,405.8 1265.0,391.3 1269.8,371.9 1281.5,356.3 1293.2,355.3 1297.1,333.0 1304.9,315.5 1316.5,292.1 1328.2,261.0 1341.8,242.5 1356.4,235.7 1363.7,224.9 1372.5,211.1 1399.9,191.5 1429.2,147.5 1459.5,124.1 1486.9,100.6 1510.0,89.5 1540.0,77.5 1576.1,68.5 1606.1,60.9 1750.4,60.9 1750.4,60.9"/><polyline fill="none" stroke="#d62728" stroke-opacity="0.32" stroke-width="1.6" stroke-linejoin="round" points="1264.2,405.8 1264.2,405.8 1267.9,387.5 1273.7,386.5 1275.7,375.8 1283.5,368.0 1289.3,344.6 1295.1,338.8 1299.0,317.4 1304.9,299.9 1314.6,286.3 1320.4,262.9 1326.3,247.4 1336.0,235.7 1348.1,206.2 1363.7,196.4 1373.5,180.8 1385.2,154.4 1404.8,146.5 1434.1,126.0 1459.5,118.2 1488.8,110.4 1508.0,102.6 1510.0,102.3 1531.0,94.0 1561.1,80.5 1591.1,73.8 1621.1,70.8 1651.1,67.8 1696.1,64.8 1750.4,60.9 1750.4,60.9"/><polyline fill="none" stroke="#9467bd" stroke-opacity="0.32" stroke-width="1.6" stroke-linejoin="round" points="1264.2,405.8 1264.2,405.8 1267.9,403.0 1273.7,379.7 1281.5,360.2 1289.3,348.5 1297.1,323.2 1302.9,292.1 1310.7,259.0 1318.5,249.3 1322.4,241.5 1332.1,229.8 1348.1,206.2 1365.7,194.4 1375.4,178.8 1389.1,146.5 1412.6,137.8 1436.0,133.8 1459.5,118.2 1471.2,100.6 1488.8,88.9 1508.0,74.2 1510.0,73.8 1537.0,73.8 1561.1,73.0 1591.1,70.0 1621.1,67.8 1750.4,60.9 1750.4,60.9"/><polyline fill="none" stroke="#8a4f43" stroke-opacity="1" stroke-width="2.0" stroke-linejoin="round" stroke-linecap="round" points="1264.2,405.8 1269.1,384.7 1273.9,368.5 1278.8,356.3 1283.6,344.3 1288.5,334.9 1293.4,326.5 1298.2,311.1 1303.1,299.5 1308.0,288.1 1312.8,276.8 1317.7,265.4 1322.5,254.8 1327.4,245.9 1332.3,239.9 1337.1,231.3 1342.0,222.9 1346.9,217.3 1351.7,212.7 1356.6,208.3 1361.4,202.2 1366.3,195.5 1371.2,188.8 1376.0,181.5 1380.9,173.6 1385.8,167.0 1390.6,162.4 1395.5,158.6 1400.3,154.8 1405.2,151.1 1410.1,147.5 1414.9,143.6 1419.8,139.6 1424.6,135.6 1429.5,132.3 1434.4,129.1 1439.2,126.2 1444.1,123.4 1449.0,120.6 1453.8,117.7 1458.7,114.8 1463.5,111.9 1468.4,109.0 1473.3,106.2 1478.1,103.6 1483.0,100.9 1487.9,98.2 1492.7,96.3 1497.6,94.5 1502.4,92.8 1507.3,91.1 1512.2,89.8 1517.0,88.8 1521.9,87.7 1526.7,86.7 1531.6,85.7 1536.5,84.6 1541.3,83.6 1546.2,82.6 1551.1,81.5 1555.9,80.2 1560.8,78.9 1565.6,77.6 1570.5,76.4 1575.4,75.4 1580.2,74.4 1585.1,73.5 1590.0,72.5 1594.8,71.6 1599.7,70.8 1604.5,70.0 1609.4,69.2 1614.3,68.6 1619.1,68.0 1624.0,67.5 1628.8,66.9 1633.7,66.5 1638.6,66.1 1643.4,65.8 1648.3,65.4 1653.2,65.1 1658.0,64.9 1662.9,64.7 1667.7,64.6 1672.6,64.4 1677.5,64.2 1682.3,64.0 1687.2,63.7 1692.1,63.5 1696.9,63.2 1701.8,63.0 1706.6,62.7 1711.5,62.5 1716.4,62.3 1721.2,62.1 1726.1,61.9 1731.0,61.7 1735.8,61.5 1740.7,61.3 1745.5,61.1 1750.4,60.9"/></g><rect x="1264.20" y="43.65" width="486.20" height="362.20" fill="none" stroke="#222" stroke-width="1.35"/><path d="M1264.20 405.85V410.75M1264.20 405.85H1259.30M1361.44 405.85V410.75M1264.20 336.86H1259.30M1458.68 405.85V410.75M1264.20 267.87H1259.30M1555.92 405.85V410.75M1264.20 198.88H1259.30M1653.16 405.85V410.75M1264.20 129.89H1259.30M1750.40 405.85V410.75M1264.20 60.90H1259.30" stroke="#222" stroke-width="1.35" fill="none"/><text class="tk" transform="translate(1264.20,433.65) scale(1,1.045)" text-anchor="middle">0.0</text><text class="tk" transform="translate(1254.30,414.95) scale(1,1.045)" text-anchor="end">0.0</text><text class="tk" transform="translate(1361.44,433.65) scale(1,1.045)" text-anchor="middle">0.2</text><text class="tk" transform="translate(1254.30,345.96) scale(1,1.045)" text-anchor="end">0.2</text><text class="tk" transform="translate(1458.68,433.65) scale(1,1.045)" text-anchor="middle">0.4</text><text class="tk" transform="translate(1254.30,276.97) scale(1,1.045)" text-anchor="end">0.4</text><text class="tk" transform="translate(1555.92,433.65) scale(1,1.045)" text-anchor="middle">0.6</text><text class="tk" transform="translate(1254.30,207.98) scale(1,1.045)" text-anchor="end">0.6</text><text class="tk" transform="translate(1653.16,433.65) scale(1,1.045)" text-anchor="middle">0.8</text><text class="tk" transform="translate(1254.30,138.99) scale(1,1.045)" text-anchor="end">0.8</text><text class="tk" transform="translate(1750.40,433.65) scale(1,1.045)" text-anchor="middle">1.0</text><text class="tk" transform="translate(1254.30,70.00) scale(1,1.045)" text-anchor="end">1.0</text><text class="lb" transform="translate(1503.90,468.15) scale(1,1.025)" text-anchor="middle">False Positive Rate</text><text class="lb" transform="translate(1215.40,233.25) rotate(-90) scale(1,1.025)" text-anchor="middle">True Positive Rate</text><text class="pl" x="1230.12" y="33.30">C</text><rect x="1475.15" y="249.85" width="267.60" height="147.40" rx="3.5" fill="#fff" fill-opacity="0.8" stroke="#d4d4d4" stroke-width="1.3"/><line x1="1480.65" x2="1514.95" y1="262.65" y2="262.65" stroke="#1f77b4" stroke-opacity="0.32" stroke-width="1.7"/><text class="lg" transform="translate(1527.75,269.25) scale(1,1.04)">KNN Fold 1 (AUC = 0.78)</text><line x1="1480.65" x2="1514.95" y1="286.43" y2="286.43" stroke="#ff7f0e" stroke-opacity="0.32" stroke-width="1.7"/><text class="lg" transform="translate(1527.75,293.03) scale(1,1.04)">KNN Fold 2 (AUC = 0.82)</text><line x1="1480.65" x2="1514.95" y1="310.21" y2="310.21" stroke="#2ca02c" stroke-opacity="0.32" stroke-width="1.7"/><text class="lg" transform="translate(1527.75,316.81) scale(1,1.04)">KNN Fold 3 (AUC = 0.77)</text><line x1="1480.65" x2="1514.95" y1="333.99" y2="333.99" stroke="#d62728" stroke-opacity="0.32" stroke-width="1.7"/><text class="lg" transform="translate(1527.75,340.59) scale(1,1.04)">KNN Fold 4 (AUC = 0.78)</text><line x1="1480.65" x2="1514.95" y1="357.77" y2="357.77" stroke="#9467bd" stroke-opacity="0.32" stroke-width="1.7"/><text class="lg" transform="translate(1527.75,364.37) scale(1,1.04)">KNN Fold 5 (AUC = 0.80)</text><line x1="1480.65" x2="1514.95" y1="381.55" y2="381.55" stroke="#8a4f43" stroke-opacity="1" stroke-width="2.0"/><text class="lg" transform="translate(1527.75,388.15) scale(1,1.04)">KNN (AUC = 0.79 &#177; 0.02)</text></g>
<g><clipPath id="clipD"><rect x="78.40" y="514.00" width="486.20" height="362.20"/></clipPath><g clip-path="url(#clipD)"><polygon fill="#1f77b4" fill-opacity="0.2" points="78.4,876.2 83.3,856.4 88.1,844.4 93.0,836.2 97.8,828.6 102.7,821.8 107.6,803.9 112.4,794.7 117.3,791.3 122.2,782.0 127.0,770.2 131.9,759.8 136.7,752.5 141.6,744.2 146.5,731.6 151.3,723.2 156.2,716.4 161.1,709.0 165.9,705.9 170.8,699.4 175.6,694.1 180.5,690.6 185.4,687.7 190.2,686.2 195.1,684.7 199.9,679.8 204.8,675.3 209.7,672.0 214.5,666.3 219.4,658.2 224.3,649.9 229.1,644.0 234.0,639.5 238.8,634.2 243.7,630.5 248.6,626.9 253.4,624.3 258.3,622.2 263.2,620.9 268.0,618.1 272.9,613.6 277.7,609.1 282.6,606.9 287.5,605.3 292.3,603.0 297.2,599.2 302.1,594.4 306.9,590.6 311.8,589.0 316.6,587.7 321.5,586.4 326.4,585.0 331.2,583.7 336.1,581.1 340.9,578.1 345.8,575.9 350.7,573.8 355.5,573.0 360.4,572.1 365.3,570.7 370.1,568.5 375.0,566.0 379.8,564.4 384.7,562.8 389.6,561.6 394.4,560.3 399.3,557.8 404.2,555.9 409.0,555.4 413.9,555.1 418.7,554.7 423.6,552.7 428.5,549.5 433.3,547.7 438.2,546.9 443.0,545.0 447.9,542.5 452.8,541.5 457.6,540.6 462.5,539.8 467.4,539.9 472.2,539.9 477.1,538.5 481.9,536.4 486.8,535.6 491.7,534.7 496.5,533.2 501.4,532.7 506.3,532.3 511.1,531.5 516.0,531.2 520.8,531.2 525.7,531.9 530.6,531.2 535.4,531.2 540.3,531.2 545.2,531.2 550.0,531.2 554.9,531.2 559.7,531.2 564.6,531.2 564.6,531.2 559.7,533.6 554.9,536.1 550.0,538.8 545.2,542.2 540.3,544.1 535.4,545.4 530.6,548.0 525.7,550.7 520.8,551.3 516.0,552.1 511.1,553.2 506.3,554.2 501.4,554.9 496.5,555.6 491.7,557.3 486.8,558.5 481.9,559.6 477.1,562.0 472.2,564.4 467.4,565.2 462.5,566.1 457.6,567.8 452.8,569.7 447.9,571.6 443.0,575.1 438.2,578.0 433.3,580.1 428.5,583.3 423.6,587.9 418.7,591.3 413.9,593.0 409.0,594.8 404.2,596.6 399.3,599.9 394.4,603.1 389.6,605.0 384.7,607.0 379.8,609.2 375.0,611.5 370.1,614.8 365.3,617.6 360.4,619.7 355.5,620.5 350.7,621.3 345.8,623.3 340.9,625.4 336.1,628.3 331.2,630.7 326.4,632.0 321.5,633.3 316.6,635.1 311.8,636.9 306.9,638.9 302.1,643.1 297.2,648.5 292.3,652.7 287.5,657.7 282.6,662.1 277.7,667.1 272.9,674.3 268.0,681.6 263.2,687.1 258.3,691.2 253.4,695.9 248.6,701.0 243.7,707.2 238.8,713.5 234.0,718.8 229.1,723.4 224.3,729.2 219.4,737.6 214.5,742.2 209.7,744.4 204.8,744.3 199.9,745.3 195.1,746.8 190.2,745.4 185.4,743.9 180.5,743.9 175.6,744.5 170.8,746.8 165.9,750.4 161.1,750.6 156.2,755.0 151.3,761.0 146.5,768.5 141.6,780.2 136.7,787.6 131.9,794.1 127.0,803.6 122.2,814.6 117.3,823.0 112.4,824.5 107.6,831.8 102.7,847.8 97.8,852.7 93.0,856.9 88.1,861.7 83.3,865.0 78.4,876.2"/><polyline fill="none" stroke="#1f77b4" stroke-opacity="0.32" stroke-width="1.6" stroke-linejoin="round" points="78.4,876.2 78.4,876.2 79.9,869.1 79.9,865.2 83.8,865.2 83.8,860.1 85.1,860.1 85.1,854.9 86.4,854.9 86.4,849.7 87.7,849.7 93.6,847.7 93.6,841.9 97.5,841.9 97.5,836.1 101.4,836.1 102.3,824.4 118.9,824.4 119.8,818.5 134.4,818.5 136.4,812.7 141.2,811.7 142.2,789.3 148.1,789.3 149.0,777.7 149.0,771.8 151.9,771.8 153.9,764.1 157.8,762.1 167.5,761.1 169.5,755.3 200.6,755.3 200.6,749.5 214.2,748.5 214.2,744.6 223.9,742.6 225.9,719.3 239.5,719.3 239.5,713.5 239.5,709.6 243.4,709.6 251.2,708.6 251.2,697.9 266.8,697.9 267.7,694.0 270.6,675.2 278.4,675.2 279.4,668.4 279.4,662.5 284.3,662.5 284.3,656.6 288.2,656.6 290.1,651.7 306.7,650.8 307.7,646.9 311.6,645.9 312.6,640.0 321.0,640.0 322.0,639.0 339.6,639.0 340.6,633.2 340.6,627.3 343.5,627.3 343.5,623.4 350.3,622.4 351.3,617.5 369.9,616.6 369.9,611.7 372.8,611.7 377.7,609.7 379.7,605.8 381.6,599.9 395.3,599.0 395.3,593.6 396.8,593.6 396.8,588.2 398.2,588.2 418.8,588.2 428.5,587.2 428.5,582.4 444.2,582.4 444.2,577.5 452.0,576.5 452.0,571.6 488.2,571.6 488.2,565.7 526.3,565.7 527.3,559.9 527.3,554.0 530.2,554.0 542.9,554.0 543.9,548.1 547.8,547.2 548.8,541.3 550.8,536.4 550.8,533.8 557.7,533.8 557.7,531.2 564.6,531.2 564.6,531.2"/><polyline fill="none" stroke="#ff7f0e" stroke-opacity="0.32" stroke-width="1.6" stroke-linejoin="round" points="78.4,876.2 78.4,876.2 78.4,873.0 81.9,873.0 83.8,865.2 83.8,861.3 85.8,861.3 85.8,857.5 87.7,857.5 87.7,851.6 91.6,851.6 97.5,849.7 97.5,844.8 100.4,844.8 100.4,839.9 103.3,839.9 105.2,830.2 105.2,823.7 106.5,823.7 106.5,817.2 107.8,817.2 107.8,810.8 109.1,810.8 109.1,806.9 113.0,806.9 113.0,802.0 115.0,802.0 115.0,797.1 116.9,797.1 120.8,795.2 122.8,783.5 122.8,777.7 126.6,777.7 126.6,771.8 130.5,771.8 130.5,767.0 132.5,767.0 132.5,762.1 134.4,762.1 134.4,758.2 142.2,758.2 142.2,751.4 143.2,751.4 143.2,744.6 144.2,744.6 144.2,737.8 145.1,737.8 145.1,733.9 148.1,733.9 153.9,733.9 155.8,729.0 155.8,724.2 157.8,724.2 157.8,719.3 159.7,719.3 159.7,713.5 165.6,713.5 183.1,713.5 183.1,709.6 187.0,709.6 198.6,708.6 200.6,701.8 200.6,697.8 210.7,697.8 210.7,693.8 220.7,693.8 222.7,682.0 222.7,679.1 230.5,679.1 230.5,676.2 238.3,676.2 240.3,668.4 262.8,668.4 263.7,664.4 269.6,663.5 270.6,654.7 279.4,653.7 280.3,649.8 286.2,648.8 287.2,643.9 298.9,642.9 300.9,635.1 306.7,633.2 307.7,629.3 316.5,628.3 317.5,625.3 321.0,624.4 336.6,624.4 337.6,619.5 362.1,618.5 363.0,613.6 369.9,612.7 371.8,600.9 399.2,599.9 401.2,596.0 401.2,590.2 407.0,590.2 418.8,588.2 420.7,585.3 424.6,584.3 426.6,580.4 426.6,575.5 428.5,575.5 428.5,570.6 430.5,570.6 430.5,566.7 434.4,566.7 442.2,564.8 442.2,560.4 444.2,560.4 444.2,556.0 446.1,556.0 457.9,555.0 457.9,552.0 461.8,552.0 489.2,551.1 491.1,547.2 491.1,544.2 498.9,544.2 498.9,541.3 506.8,541.3 526.3,540.3 528.3,536.4 528.3,535.1 537.4,535.1 537.4,533.8 546.4,533.8 546.4,532.5 555.5,532.5 555.5,531.2 564.6,531.2 564.6,531.2"/><polyline fill="none" stroke="#2ca02c" stroke-opacity="0.32" stroke-width="1.6" stroke-linejoin="round" points="78.4,876.2 78.4,876.2 79.0,875.0 79.0,868.2 80.4,868.2 80.4,861.3 81.9,861.3 81.9,857.5 89.7,857.5 89.7,853.6 92.6,853.6 92.6,849.7 95.5,849.7 95.5,845.8 99.4,845.8 99.4,841.9 102.3,841.9 102.3,838.0 105.2,838.0 116.9,838.0 118.9,832.2 120.8,810.8 122.8,803.0 124.7,789.3 124.7,785.5 127.6,785.5 127.6,781.6 130.5,781.6 136.4,781.6 136.4,775.7 139.3,775.7 139.3,769.9 142.2,769.9 148.1,767.9 150.0,756.3 151.9,752.4 155.8,750.4 155.8,744.6 159.7,744.6 216.2,743.6 218.1,737.8 223.9,736.8 225.9,719.3 237.6,719.3 237.6,712.5 241.5,711.5 241.5,699.8 249.2,697.9 249.2,693.8 255.9,693.8 256.9,686.9 256.9,682.0 259.8,682.0 267.6,681.1 269.6,676.2 269.6,669.3 272.5,669.3 277.4,668.4 278.4,661.5 280.3,660.5 281.3,656.6 286.2,655.7 287.2,643.9 297.0,642.9 297.9,637.1 299.9,633.2 300.9,625.3 320.4,624.4 321.0,618.5 321.4,618.5 329.8,618.5 329.8,612.7 369.9,611.7 371.8,607.8 379.7,606.8 379.7,599.9 385.5,599.9 399.2,599.9 401.2,595.1 402.1,589.2 414.9,587.2 414.9,581.4 422.7,580.4 424.6,573.6 424.6,566.7 428.5,566.7 429.5,562.8 446.1,561.8 446.1,558.9 450.1,558.9 450.1,554.0 455.9,554.0 455.9,549.1 461.8,549.1 477.4,549.1 479.4,543.2 493.1,543.2 494.1,537.4 534.1,536.4 534.1,531.5 564.6,531.2 564.6,531.2"/><polyline fill="none" stroke="#d62728" stroke-opacity="0.32" stroke-width="1.6" stroke-linejoin="round" points="78.4,876.2 78.4,876.2 79.9,869.1 81.9,853.6 85.8,851.6 85.8,845.8 88.7,845.8 88.7,839.9 91.6,839.9 92.6,838.0 92.6,831.8 94.2,831.8 94.2,825.7 95.8,825.7 95.8,819.5 97.5,819.5 103.3,818.5 105.2,800.1 105.2,795.7 107.7,795.7 107.7,791.3 110.1,791.3 110.1,785.5 113.0,785.5 113.0,781.6 116.9,781.6 122.8,781.6 124.7,775.7 124.7,768.9 126.2,768.9 126.2,762.1 127.6,762.1 127.6,757.2 130.1,757.2 130.1,752.4 132.5,752.4 132.5,748.5 134.4,748.5 134.4,744.6 136.4,744.6 138.3,742.6 138.3,738.8 140.3,738.8 140.3,734.9 142.2,734.9 144.2,732.9 155.8,732.9 157.8,725.1 165.6,723.2 167.5,713.5 169.5,705.7 171.4,701.8 171.4,695.9 179.2,695.9 179.2,689.9 183.6,689.9 183.6,686.9 187.5,686.9 203.1,686.0 205.1,682.0 205.1,677.2 209.0,677.2 212.9,676.2 214.9,672.3 216.8,653.7 216.8,648.8 219.7,648.8 223.7,647.8 224.6,644.9 226.6,635.1 227.6,625.3 246.1,625.3 248.1,615.6 248.1,611.7 251.0,611.7 252.0,605.8 273.5,605.8 274.5,600.9 280.3,599.9 281.3,596.0 291.1,596.0 292.1,587.2 296.0,586.2 297.0,582.3 300.9,581.4 301.9,577.4 321.0,577.4 322.0,577.4 323.0,573.6 362.1,573.6 363.0,568.7 381.6,568.3 382.6,563.8 404.1,563.8 405.1,558.9 438.3,557.9 439.3,554.0 439.3,550.1 443.2,550.1 458.9,550.1 459.8,545.2 471.6,544.2 472.5,540.3 490.1,540.3 491.1,535.4 514.6,535.4 515.6,531.2 564.6,531.2 564.6,531.2"/><polyline fill="none" stroke="#9467bd" stroke-opacity="0.32" stroke-width="1.6" stroke-linejoin="round" points="78.4,876.2 78.4,876.2 79.9,869.1 79.9,863.9 81.2,863.9 81.2,858.8 82.5,858.8 82.5,853.6 83.8,853.6 83.8,848.7 86.8,848.7 86.8,843.8 89.7,843.8 89.7,839.0 93.6,839.0 93.6,834.1 97.5,834.1 97.5,828.3 100.4,828.3 100.4,822.4 103.3,822.4 103.3,815.9 105.2,815.9 105.2,809.5 107.2,809.5 107.2,803.0 109.1,803.0 109.1,796.2 112.1,796.2 119.8,795.2 119.8,790.3 121.3,790.3 121.3,785.5 122.8,785.5 122.8,780.6 124.7,780.6 124.7,775.7 126.6,775.7 128.6,762.1 130.5,752.4 132.5,742.6 132.5,735.8 136.4,735.8 138.3,723.2 138.3,717.4 142.2,717.4 144.2,709.6 157.8,709.6 159.7,695.9 159.7,688.9 167.9,688.9 173.8,687.9 173.8,683.0 197.3,683.0 198.2,676.2 212.9,676.2 214.9,669.3 233.4,669.3 234.4,650.8 234.4,644.9 237.3,644.9 237.3,641.0 238.8,641.0 238.8,637.1 240.3,637.1 248.1,637.1 249.1,630.2 258.8,630.2 259.8,624.4 259.8,617.5 262.8,617.5 267.6,616.5 268.6,609.7 279.4,608.7 280.3,603.8 293.1,603.8 293.1,598.0 297.9,598.0 299.9,592.1 300.9,590.2 321.0,590.2 322.0,590.2 325.9,590.2 325.9,584.3 335.7,583.3 336.6,577.5 339.6,576.5 340.6,570.6 344.5,569.6 345.4,563.8 368.9,563.8 368.9,556.9 387.5,556.9 388.5,550.7 457.9,550.1 457.9,546.5 465.0,546.5 465.0,542.9 472.2,542.9 472.2,539.3 479.4,539.3 479.4,537.4 491.1,537.4 491.1,536.6 500.2,536.6 500.2,535.7 509.4,535.7 509.4,534.9 518.5,534.9 518.5,534.1 527.6,534.1 527.6,533.3 536.7,533.3 536.7,532.5 545.9,532.5 564.6,531.2 564.6,531.2"/><polyline fill="none" stroke="#8a4f43" stroke-opacity="1" stroke-width="2.0" stroke-linejoin="round" stroke-linecap="round" points="78.4,876.2 83.3,860.7 88.1,853.0 93.0,846.6 97.8,840.6 102.7,834.8 107.6,817.8 112.4,809.6 117.3,807.2 122.2,798.3 127.0,786.9 131.9,776.9 136.7,770.0 141.6,762.2 146.5,750.1 151.3,742.1 156.2,735.7 161.1,729.8 165.9,728.2 170.8,723.1 175.6,719.3 180.5,717.3 185.4,715.8 190.2,715.8 195.1,715.8 199.9,712.5 204.8,709.8 209.7,708.2 214.5,704.2 219.4,697.9 224.3,689.5 229.1,683.7 234.0,679.2 238.8,673.8 243.7,668.8 248.6,664.0 253.4,660.1 258.3,656.7 263.2,654.0 268.0,649.9 272.9,644.0 277.7,638.1 282.6,634.5 287.5,631.5 292.3,627.8 297.2,623.9 302.1,618.8 306.9,614.8 311.8,612.9 316.6,611.4 321.5,609.9 326.4,608.5 331.2,607.2 336.1,604.7 340.9,601.7 345.8,599.6 350.7,597.5 355.5,596.8 360.4,595.9 365.3,594.1 370.1,591.6 375.0,588.7 379.8,586.8 384.7,584.9 389.6,583.3 394.4,581.7 399.3,578.9 404.2,576.2 409.0,575.1 413.9,574.1 418.7,573.0 423.6,570.3 428.5,566.4 433.3,563.9 438.2,562.4 443.0,560.1 447.9,557.0 452.8,555.6 457.6,554.2 462.5,553.0 467.4,552.6 472.2,552.1 477.1,550.3 481.9,548.0 486.8,547.0 491.7,546.0 496.5,544.4 501.4,543.8 506.3,543.3 511.1,542.4 516.0,541.4 520.8,541.3 525.7,541.3 530.6,539.2 535.4,537.2 540.3,536.6 545.2,535.3 550.0,533.7 554.9,532.6 559.7,531.9 564.6,531.2"/></g><rect x="78.40" y="514.00" width="486.20" height="362.20" fill="none" stroke="#222" stroke-width="1.35"/><path d="M78.40 876.20V881.10M78.40 876.20H73.50M175.64 876.20V881.10M78.40 807.21H73.50M272.88 876.20V881.10M78.40 738.22H73.50M370.12 876.20V881.10M78.40 669.23H73.50M467.36 876.20V881.10M78.40 600.24H73.50M564.60 876.20V881.10M78.40 531.25H73.50" stroke="#222" stroke-width="1.35" fill="none"/><text class="tk" transform="translate(78.40,904.00) scale(1,1.045)" text-anchor="middle">0.0</text><text class="tk" transform="translate(68.50,885.30) scale(1,1.045)" text-anchor="end">0.0</text><text class="tk" transform="translate(175.64,904.00) scale(1,1.045)" text-anchor="middle">0.2</text><text class="tk" transform="translate(68.50,816.31) scale(1,1.045)" text-anchor="end">0.2</text><text class="tk" transform="translate(272.88,904.00) scale(1,1.045)" text-anchor="middle">0.4</text><text class="tk" transform="translate(68.50,747.32) scale(1,1.045)" text-anchor="end">0.4</text><text class="tk" transform="translate(370.12,904.00) scale(1,1.045)" text-anchor="middle">0.6</text><text class="tk" transform="translate(68.50,678.33) scale(1,1.045)" text-anchor="end">0.6</text><text class="tk" transform="translate(467.36,904.00) scale(1,1.045)" text-anchor="middle">0.8</text><text class="tk" transform="translate(68.50,609.34) scale(1,1.045)" text-anchor="end">0.8</text><text class="tk" transform="translate(564.60,904.00) scale(1,1.045)" text-anchor="middle">1.0</text><text class="tk" transform="translate(68.50,540.35) scale(1,1.045)" text-anchor="end">1.0</text><text class="lb" transform="translate(318.10,938.50) scale(1,1.025)" text-anchor="middle">False Positive Rate</text><text class="lb" transform="translate(29.60,699.55) rotate(-90) scale(1,1.025)" text-anchor="middle">True Positive Rate</text><text class="pl" x="41.35" y="505.00">D</text><rect x="288.86" y="720.20" width="268.09" height="147.40" rx="3.5" fill="#fff" fill-opacity="0.8" stroke="#d4d4d4" stroke-width="1.3"/><line x1="294.36" x2="328.66" y1="733.00" y2="733.00" stroke="#1f77b4" stroke-opacity="0.32" stroke-width="1.7"/><text class="lg" transform="translate(341.46,739.60) scale(1,1.04)">SVM Fold 1 (AUC = 0.61)</text><line x1="294.36" x2="328.66" y1="756.78" y2="756.78" stroke="#ff7f0e" stroke-opacity="0.32" stroke-width="1.7"/><text class="lg" transform="translate(341.46,763.38) scale(1,1.04)">SVM Fold 2 (AUC = 0.67)</text><line x1="294.36" x2="328.66" y1="780.56" y2="780.56" stroke="#2ca02c" stroke-opacity="0.32" stroke-width="1.7"/><text class="lg" transform="translate(341.46,787.16) scale(1,1.04)">SVM Fold 3 (AUC = 0.64)</text><line x1="294.36" x2="328.66" y1="804.34" y2="804.34" stroke="#d62728" stroke-opacity="0.32" stroke-width="1.7"/><text class="lg" transform="translate(341.46,810.94) scale(1,1.04)">SVM Fold 4 (AUC = 0.74)</text><line x1="294.36" x2="328.66" y1="828.12" y2="828.12" stroke="#9467bd" stroke-opacity="0.32" stroke-width="1.7"/><text class="lg" transform="translate(341.46,834.72) scale(1,1.04)">SVM Fold 5 (AUC = 0.74)</text><line x1="294.36" x2="328.66" y1="851.90" y2="851.90" stroke="#8a4f43" stroke-opacity="1" stroke-width="2.0"/><text class="lg" transform="translate(341.46,858.50) scale(1,1.04)">SVM (AUC = 0.68 &#177; 0.05)</text></g>
<g><clipPath id="clipE"><rect x="671.20" y="514.00" width="486.20" height="362.20"/></clipPath><g clip-path="url(#clipE)"><polygon fill="#1f77b4" fill-opacity="0.2" points="671.2,876.2 676.1,800.3 680.9,778.9 685.8,765.3 690.6,751.7 695.5,740.0 700.4,730.0 705.2,721.5 710.1,713.0 715.0,697.7 719.8,690.3 724.7,679.8 729.5,668.4 734.4,662.4 739.3,655.6 744.1,649.0 749.0,642.7 753.9,634.4 758.7,625.5 763.6,620.8 768.4,614.8 773.3,611.0 778.2,601.5 783.0,597.0 787.9,589.5 792.8,584.4 797.6,579.7 802.5,575.2 807.3,570.8 812.2,569.4 817.1,568.5 821.9,566.2 826.8,563.7 831.6,562.5 836.5,560.9 841.4,559.2 846.2,558.1 851.1,557.4 856.0,556.7 860.8,556.1 865.7,552.4 870.5,549.1 875.4,547.4 880.3,547.0 885.1,546.3 890.0,546.2 894.9,545.6 899.7,544.5 904.6,542.9 909.4,542.6 914.3,542.4 919.2,540.4 924.0,539.3 928.9,538.0 933.7,537.1 938.6,536.7 943.5,536.0 948.3,534.5 953.2,534.0 958.1,534.2 962.9,534.3 967.8,534.4 972.6,534.1 977.5,533.9 982.4,533.9 987.2,533.6 992.1,531.8 997.0,531.5 1001.8,531.2 1006.7,531.2 1011.5,531.2 1016.4,531.2 1021.3,531.2 1026.1,531.2 1031.0,531.2 1035.8,531.2 1040.7,531.2 1045.6,531.2 1050.4,531.2 1055.3,531.2 1060.2,531.2 1065.0,531.2 1069.9,531.2 1074.7,531.2 1079.6,531.2 1084.5,531.2 1089.3,531.2 1094.2,531.2 1099.1,531.2 1103.9,531.2 1108.8,531.2 1113.6,531.2 1118.5,531.2 1123.4,531.2 1128.2,531.2 1133.1,531.2 1138.0,531.2 1142.8,531.2 1147.7,531.2 1152.5,531.2 1157.4,531.2 1157.4,531.2 1152.5,531.2 1147.7,531.2 1142.8,531.2 1138.0,531.2 1133.1,531.2 1128.2,531.2 1123.4,531.2 1118.5,531.2 1113.6,531.2 1108.8,531.2 1103.9,531.2 1099.1,531.2 1094.2,531.2 1089.3,531.2 1084.5,531.2 1079.6,531.2 1074.7,531.2 1069.9,531.2 1065.0,531.2 1060.2,531.2 1055.3,531.2 1050.4,531.2 1045.6,531.8 1040.7,532.3 1035.8,532.8 1031.0,533.6 1026.1,534.5 1021.3,535.6 1016.4,536.1 1011.5,536.5 1006.7,536.9 1001.8,537.8 997.0,538.8 992.1,539.7 987.2,542.1 982.4,543.1 977.5,543.6 972.6,544.5 967.8,545.2 962.9,545.6 958.1,546.0 953.2,546.3 948.3,547.3 943.5,549.3 938.6,550.5 933.7,551.2 928.9,552.4 924.0,554.1 919.2,555.6 914.3,557.9 909.4,558.5 904.6,559.1 899.7,561.0 894.9,563.2 890.0,564.9 885.1,566.0 880.3,567.7 875.4,571.3 870.5,576.2 865.7,582.8 860.8,588.9 856.0,591.9 851.1,595.0 846.2,598.1 841.4,601.6 836.5,605.7 831.6,609.7 826.8,613.4 821.9,616.8 817.1,619.9 812.2,621.6 807.3,624.0 802.5,625.9 797.6,628.0 792.8,630.3 787.9,633.0 783.0,638.2 778.2,640.5 773.3,647.7 768.4,649.3 763.6,654.8 758.7,659.0 753.9,667.3 749.0,675.1 744.1,682.1 739.3,689.4 734.4,696.9 729.5,704.0 724.7,716.6 719.8,728.2 715.0,740.2 710.1,759.9 705.2,770.8 700.4,781.8 695.5,787.6 690.6,795.1 685.8,805.6 680.9,816.9 676.1,833.6 671.2,876.2"/><polyline fill="none" stroke="#1f77b4" stroke-opacity="0.32" stroke-width="1.6" stroke-linejoin="round" points="671.2,876.2 671.2,876.2 673.9,820.5 675.9,801.0 675.9,795.2 677.2,795.2 677.2,789.3 678.5,789.3 678.5,783.5 679.8,783.5 686.6,783.5 686.6,778.3 687.9,778.3 687.9,773.1 689.2,773.1 689.2,767.9 690.5,767.9 700.2,766.0 702.1,760.2 707.0,758.2 707.0,751.4 708.5,751.4 708.5,744.6 709.9,744.6 709.9,740.7 711.4,740.7 711.4,736.8 712.8,736.8 715.8,736.8 717.7,723.2 717.7,719.3 723.5,719.3 725.5,709.6 735.2,709.6 737.2,701.8 739.1,695.9 739.4,694.9 739.4,686.0 747.2,686.0 748.2,680.1 754.1,680.1 755.1,674.2 757.0,672.3 758.0,658.6 758.0,654.7 761.9,654.7 762.9,650.8 766.8,649.8 768.8,644.9 796.1,644.9 796.1,640.0 803.9,639.0 803.9,634.1 826.4,634.1 827.4,627.3 827.4,621.4 832.3,621.4 834.2,619.5 834.2,605.8 841.1,605.8 843.0,599.9 843.0,594.1 847.0,594.1 854.8,593.1 856.7,588.2 861.6,587.2 862.6,572.6 866.5,570.6 866.5,565.7 872.4,565.7 893.0,565.7 903.5,565.0 903.5,559.0 903.6,559.0 903.6,558.9 918.5,558.9 919.3,553.8 943.3,553.8 944.8,548.5 989.1,548.5 989.8,543.3 992.1,542.5 992.8,537.3 1001.1,536.5 1001.1,534.6 1011.6,534.6 1011.6,532.8 1022.1,532.8 1037.1,531.2 1157.4,531.2 1157.4,531.2"/><polyline fill="none" stroke="#ff7f0e" stroke-opacity="0.32" stroke-width="1.6" stroke-linejoin="round" points="671.2,876.2 671.2,876.2 671.2,869.5 671.8,869.5 671.8,862.8 672.4,862.8 672.4,856.1 673.0,856.1 673.0,849.4 673.7,849.4 673.7,842.7 674.3,842.7 674.3,836.1 674.9,836.1 674.9,830.9 676.2,830.9 676.2,825.7 677.5,825.7 677.5,820.5 678.8,820.5 678.8,813.7 680.7,813.7 680.7,806.9 682.7,806.9 682.7,801.7 684.0,801.7 684.0,796.5 685.3,796.5 685.3,791.3 686.6,791.3 686.6,787.4 692.4,787.4 698.2,787.4 698.2,780.9 699.2,780.9 699.2,774.4 700.2,774.4 700.2,767.9 701.2,767.9 701.2,762.8 702.1,762.8 702.1,757.6 703.1,757.6 703.1,752.4 704.1,752.4 704.1,748.5 707.0,748.5 709.9,746.5 711.9,736.8 711.9,731.0 713.8,731.0 713.8,725.1 715.8,725.1 715.8,719.3 717.7,719.3 717.7,713.5 721.6,713.5 723.8,686.0 723.8,682.0 725.7,682.0 725.7,678.1 727.7,678.1 729.7,667.4 729.7,663.0 731.1,663.0 731.1,658.6 732.6,658.6 732.6,653.7 734.0,653.7 734.0,648.8 735.5,648.8 735.5,644.9 739.4,644.9 749.2,643.9 749.2,639.0 755.1,639.0 755.1,635.1 762.9,635.1 762.9,629.9 764.2,629.9 764.2,624.7 765.5,624.7 765.5,619.5 766.8,619.5 776.6,617.5 777.5,609.7 777.5,604.8 781.0,604.8 781.0,599.9 784.4,599.9 784.4,593.1 786.3,593.1 786.3,586.2 788.3,586.2 792.2,585.3 805.9,584.3 805.9,575.5 825.4,574.5 825.4,569.6 837.2,569.6 839.1,560.8 848.9,559.9 848.9,555.5 852.8,555.5 852.8,551.1 856.7,551.1 869.4,550.1 870.4,545.2 886.1,545.2 886.1,540.3 893.0,540.3 915.0,540.3 917.0,540.3 917.0,539.4 925.3,539.4 925.3,538.4 933.5,538.4 933.5,537.5 941.8,537.5 941.8,536.5 950.0,536.5 986.1,535.0 1034.1,535.0 1034.1,531.2 1038.6,531.2 1157.4,531.2 1157.4,531.2"/><polyline fill="none" stroke="#2ca02c" stroke-opacity="0.32" stroke-width="1.6" stroke-linejoin="round" points="671.2,876.2 671.2,876.2 672.9,859.4 674.9,855.5 676.8,845.8 676.8,839.9 678.8,839.9 678.8,834.1 680.7,834.1 680.7,827.3 682.7,827.3 682.7,820.5 684.6,820.5 684.6,816.6 688.5,816.6 690.5,803.0 698.2,801.0 700.2,787.4 700.2,781.6 702.1,781.6 702.1,775.7 704.1,775.7 706.0,769.9 708.0,762.1 709.9,750.4 711.9,742.6 711.9,737.8 713.8,737.8 713.8,732.9 715.8,732.9 717.7,729.0 717.7,725.1 719.6,725.1 719.6,721.2 721.6,721.2 721.6,715.4 724.5,715.4 724.5,709.6 727.4,709.6 729.4,699.8 729.4,693.9 732.9,693.9 732.9,687.9 736.5,687.9 737.2,687.9 737.2,684.0 739.3,684.0 739.3,680.1 741.4,680.1 741.4,676.2 743.3,676.2 743.3,672.3 745.3,672.3 747.2,662.5 749.2,658.6 757.0,656.6 758.0,650.8 760.0,646.9 760.0,642.9 762.9,642.9 762.9,638.1 764.8,638.1 764.8,633.2 766.8,633.2 768.8,630.2 774.6,630.2 774.6,625.3 780.5,625.3 784.4,624.4 807.9,624.4 809.8,618.5 819.6,617.5 820.6,605.8 850.9,605.8 850.9,599.9 861.6,599.0 862.6,594.1 868.5,594.1 869.4,581.4 874.3,580.4 875.3,574.5 884.1,574.5 885.1,568.7 892.9,567.7 893.0,567.7 895.8,556.9 896.0,556.0 908.5,555.9 909.5,555.9 909.5,551.5 909.5,551.5 929.0,550.8 930.5,547.8 946.3,547.0 947.0,538.0 990.6,537.3 990.6,531.2 1001.1,531.2 1157.4,531.2 1157.4,531.2"/><polyline fill="none" stroke="#d62728" stroke-opacity="0.32" stroke-width="1.6" stroke-linejoin="round" points="671.2,876.2 671.2,876.2 672.9,820.5 672.9,814.6 674.9,814.6 674.9,808.8 676.8,808.8 676.8,803.0 678.8,803.0 678.8,797.1 680.1,797.1 680.1,791.3 681.4,791.3 681.4,785.5 682.7,785.5 682.7,778.6 683.6,778.6 683.6,771.8 684.6,771.8 684.6,765.0 685.6,765.0 685.6,758.2 686.6,758.2 686.6,752.4 688.5,752.4 688.5,746.5 690.5,746.5 691.4,732.9 691.4,729.0 696.3,729.0 698.2,719.3 698.2,715.4 702.1,715.4 702.1,710.5 709.9,709.6 711.9,705.7 711.9,700.8 713.8,700.8 713.8,695.9 715.8,695.9 715.8,691.4 717.3,691.4 717.3,686.9 718.9,686.9 725.7,686.0 725.7,680.1 727.7,680.1 727.7,674.2 729.7,674.2 729.7,670.3 731.6,670.3 731.6,666.4 733.6,666.4 735.5,662.5 749.2,662.5 751.2,658.6 772.7,657.6 774.6,650.8 776.6,635.1 776.6,631.2 780.5,631.2 780.5,625.3 784.4,625.3 784.4,620.9 786.3,620.9 786.3,616.5 788.3,616.5 788.3,606.8 788.3,601.9 796.1,601.9 798.1,592.1 815.7,591.1 816.7,587.2 833.3,586.2 835.2,582.3 843.0,581.4 843.0,577.4 845.0,577.4 845.0,573.5 847.0,573.5 864.5,572.6 865.5,558.9 865.5,555.0 870.4,555.0 886.1,555.0 886.1,552.5 893.3,552.5 893.3,550.0 900.5,550.0 905.6,550.0 917.8,550.0 918.5,540.7 938.8,540.3 938.8,538.0 944.8,538.0 944.8,535.8 950.8,535.8 986.1,535.8 1020.6,535.0 1037.1,535.0 1038.6,531.2 1157.4,531.2 1157.4,531.2"/><polyline fill="none" stroke="#9467bd" stroke-opacity="0.32" stroke-width="1.6" stroke-linejoin="round" points="671.2,876.2 671.2,876.2 672.9,830.2 674.9,803.0 676.8,781.6 678.8,775.7 680.7,764.1 680.7,760.2 682.7,760.2 682.7,756.3 684.6,756.3 688.5,754.3 690.5,742.6 692.4,731.0 692.4,727.1 694.4,727.1 694.4,723.2 696.3,723.2 698.2,721.2 709.9,721.2 711.9,709.6 711.9,705.7 713.8,705.7 713.8,701.8 715.8,701.8 715.8,695.9 719.6,695.9 719.6,689.4 724.3,689.4 724.3,682.8 728.9,682.8 728.9,676.2 733.6,676.2 733.6,671.3 736.5,671.3 736.5,666.4 739.4,666.4 741.4,656.6 745.3,654.7 745.3,650.8 747.2,650.8 747.2,646.9 749.2,646.9 751.2,639.0 753.1,615.6 753.1,609.7 757.0,609.7 757.0,603.8 759.0,603.8 759.0,598.0 760.9,598.0 774.6,596.0 776.6,584.3 777.5,577.4 799.1,577.4 800.0,570.6 800.0,566.7 802.5,566.7 802.5,562.8 804.9,562.8 805.9,556.9 850.9,556.9 850.9,555.4 861.4,555.4 861.4,553.8 871.9,553.8 871.9,552.3 882.5,552.3 882.5,550.8 893.0,550.8 900.5,550.0 927.5,549.3 927.5,543.6 932.8,543.6 932.8,538.0 938.0,538.0 947.0,537.3 986.1,536.5 986.8,531.2 1157.4,531.2 1157.4,531.2"/><polyline fill="none" stroke="#8a4f43" stroke-opacity="1" stroke-width="2.0" stroke-linejoin="round" stroke-linecap="round" points="671.2,876.2 676.1,817.0 680.9,797.9 685.8,785.5 690.6,773.4 695.5,763.8 700.4,755.9 705.2,746.2 710.1,736.5 715.0,718.9 719.8,709.2 724.7,698.2 729.5,686.2 734.4,679.6 739.3,672.5 744.1,665.6 749.0,658.9 753.9,650.8 758.7,642.2 763.6,637.8 768.4,632.0 773.3,629.3 778.2,621.0 783.0,617.6 787.9,611.3 792.8,607.3 797.6,603.8 802.5,600.6 807.3,597.4 812.2,595.5 817.1,594.2 821.9,591.5 826.8,588.6 831.6,586.1 836.5,583.3 841.4,580.4 846.2,578.1 851.1,576.2 856.0,574.3 860.8,572.5 865.7,567.6 870.5,562.7 875.4,559.3 880.3,557.4 885.1,556.2 890.0,555.5 894.9,554.4 899.7,552.8 904.6,551.0 909.4,550.5 914.3,550.1 919.2,548.0 924.0,546.7 928.9,545.2 933.7,544.2 938.6,543.6 943.5,542.6 948.3,540.9 953.2,540.2 958.1,540.1 962.9,539.9 967.8,539.8 972.6,539.3 977.5,538.7 982.4,538.5 987.2,537.8 992.1,535.8 997.0,535.2 1001.8,534.4 1006.7,533.8 1011.5,533.7 1016.4,533.6 1021.3,533.4 1026.1,532.6 1031.0,532.0 1035.8,531.5 1040.7,531.2 1045.6,531.2 1050.4,531.2 1055.3,531.2 1060.2,531.2 1065.0,531.2 1069.9,531.2 1074.7,531.2 1079.6,531.2 1084.5,531.2 1089.3,531.2 1094.2,531.2 1099.1,531.2 1103.9,531.2 1108.8,531.2 1113.6,531.2 1118.5,531.2 1123.4,531.2 1128.2,531.2 1133.1,531.2 1138.0,531.2 1142.8,531.2 1147.7,531.2 1152.5,531.2 1157.4,531.2"/></g><rect x="671.20" y="514.00" width="486.20" height="362.20" fill="none" stroke="#222" stroke-width="1.35"/><path d="M671.20 876.20V881.10M671.20 876.20H666.30M768.44 876.20V881.10M671.20 807.21H666.30M865.68 876.20V881.10M671.20 738.22H666.30M962.92 876.20V881.10M671.20 669.23H666.30M1060.16 876.20V881.10M671.20 600.24H666.30M1157.40 876.20V881.10M671.20 531.25H666.30" stroke="#222" stroke-width="1.35" fill="none"/><text class="tk" transform="translate(671.20,904.00) scale(1,1.045)" text-anchor="middle">0.0</text><text class="tk" transform="translate(661.30,885.30) scale(1,1.045)" text-anchor="end">0.0</text><text class="tk" transform="translate(768.44,904.00) scale(1,1.045)" text-anchor="middle">0.2</text><text class="tk" transform="translate(661.30,816.31) scale(1,1.045)" text-anchor="end">0.2</text><text class="tk" transform="translate(865.68,904.00) scale(1,1.045)" text-anchor="middle">0.4</text><text class="tk" transform="translate(661.30,747.32) scale(1,1.045)" text-anchor="end">0.4</text><text class="tk" transform="translate(962.92,904.00) scale(1,1.045)" text-anchor="middle">0.6</text><text class="tk" transform="translate(661.30,678.33) scale(1,1.045)" text-anchor="end">0.6</text><text class="tk" transform="translate(1060.16,904.00) scale(1,1.045)" text-anchor="middle">0.8</text><text class="tk" transform="translate(661.30,609.34) scale(1,1.045)" text-anchor="end">0.8</text><text class="tk" transform="translate(1157.40,904.00) scale(1,1.045)" text-anchor="middle">1.0</text><text class="tk" transform="translate(661.30,540.35) scale(1,1.045)" text-anchor="end">1.0</text><text class="lb" transform="translate(910.90,938.50) scale(1,1.025)" text-anchor="middle">False Positive Rate</text><text class="lb" transform="translate(622.40,699.55) rotate(-90) scale(1,1.025)" text-anchor="middle">True Positive Rate</text><text class="pl" x="639.21" y="505.00">E</text><rect x="847.31" y="720.20" width="302.44" height="147.40" rx="3.5" fill="#fff" fill-opacity="0.8" stroke="#d4d4d4" stroke-width="1.3"/><line x1="852.81" x2="887.11" y1="733.00" y2="733.00" stroke="#1f77b4" stroke-opacity="0.32" stroke-width="1.7"/><text class="lg" transform="translate(899.91,739.60) scale(1,1.04)">XGBoost Fold 1 (AUC = 0.81)</text><line x1="852.81" x2="887.11" y1="756.78" y2="756.78" stroke="#ff7f0e" stroke-opacity="0.32" stroke-width="1.7"/><text class="lg" transform="translate(899.91,763.38) scale(1,1.04)">XGBoost Fold 2 (AUC = 0.85)</text><line x1="852.81" x2="887.11" y1="780.56" y2="780.56" stroke="#2ca02c" stroke-opacity="0.32" stroke-width="1.7"/><text class="lg" transform="translate(899.91,787.16) scale(1,1.04)">XGBoost Fold 3 (AUC = 0.82)</text><line x1="852.81" x2="887.11" y1="804.34" y2="804.34" stroke="#d62728" stroke-opacity="0.32" stroke-width="1.7"/><text class="lg" transform="translate(899.91,810.94) scale(1,1.04)">XGBoost Fold 4 (AUC = 0.85)</text><line x1="852.81" x2="887.11" y1="828.12" y2="828.12" stroke="#9467bd" stroke-opacity="0.32" stroke-width="1.7"/><text class="lg" transform="translate(899.91,834.72) scale(1,1.04)">XGBoost Fold 5 (AUC = 0.87)</text><line x1="852.81" x2="887.11" y1="851.90" y2="851.90" stroke="#8a4f43" stroke-opacity="1" stroke-width="2.0"/><text class="lg" transform="translate(899.91,858.50) scale(1,1.04)">XGBoost (AUC = 0.84 &#177; 0.02)</text></g>
<g><clipPath id="clipF"><rect x="1264.20" y="514.00" width="486.20" height="362.20"/></clipPath><g clip-path="url(#clipF)"><polygon fill="#1f77b4" fill-opacity="0.2" points="1264.2,876.2 1269.1,772.7 1273.9,744.1 1278.8,725.8 1283.6,709.9 1288.5,703.2 1293.4,693.8 1298.2,686.3 1303.1,678.9 1308.0,671.3 1312.8,660.0 1317.7,648.7 1322.5,637.5 1327.4,629.4 1332.3,627.2 1337.1,620.4 1342.0,614.3 1346.9,608.3 1351.7,601.8 1356.6,599.5 1361.4,594.5 1366.3,589.2 1371.2,585.2 1376.0,580.0 1380.9,575.7 1385.8,571.1 1390.6,566.8 1395.5,563.1 1400.3,559.8 1405.2,557.4 1410.1,554.1 1414.9,552.3 1419.8,548.1 1424.6,544.9 1429.5,543.0 1434.4,543.1 1439.2,541.3 1444.1,538.6 1449.0,537.3 1453.8,536.8 1458.7,536.4 1463.5,536.1 1468.4,536.0 1473.3,536.2 1478.1,536.4 1483.0,535.1 1487.9,533.6 1492.7,532.5 1497.6,532.0 1502.4,531.4 1507.3,531.2 1512.2,531.2 1517.0,531.2 1521.9,531.2 1526.7,531.2 1531.6,531.2 1536.5,531.2 1541.3,531.2 1546.2,531.2 1551.1,531.2 1555.9,531.2 1560.8,531.2 1565.6,531.2 1570.5,531.2 1575.4,531.2 1580.2,531.2 1585.1,531.2 1590.0,531.2 1594.8,531.2 1599.7,531.2 1604.5,531.2 1609.4,531.2 1614.3,531.2 1619.1,531.2 1624.0,531.2 1628.8,531.2 1633.7,531.2 1638.6,531.2 1643.4,531.2 1648.3,531.2 1653.2,531.2 1658.0,531.2 1662.9,531.2 1667.7,531.2 1672.6,531.2 1677.5,531.2 1682.3,531.2 1687.2,531.2 1692.1,531.2 1696.9,531.2 1701.8,531.2 1706.6,531.2 1711.5,531.2 1716.4,531.2 1721.2,531.2 1726.1,531.2 1731.0,531.2 1735.8,531.2 1740.7,531.2 1745.5,531.2 1750.4,531.2 1750.4,531.2 1745.5,531.2 1740.7,531.2 1735.8,531.2 1731.0,531.2 1726.1,531.2 1721.2,531.2 1716.4,531.2 1711.5,531.2 1706.6,531.2 1701.8,531.2 1696.9,531.2 1692.1,531.2 1687.2,531.2 1682.3,532.1 1677.5,533.0 1672.6,533.5 1667.7,534.2 1662.9,534.5 1658.0,534.7 1653.2,534.8 1648.3,535.0 1643.4,535.2 1638.6,535.3 1633.7,535.5 1628.8,535.6 1624.0,535.8 1619.1,536.0 1614.3,537.2 1609.4,537.5 1604.5,537.7 1599.7,537.9 1594.8,538.1 1590.0,538.3 1585.1,538.6 1580.2,538.8 1575.4,539.0 1570.5,539.2 1565.6,539.4 1560.8,540.1 1555.9,540.8 1551.1,541.1 1546.2,541.9 1541.3,542.8 1536.5,543.0 1531.6,543.3 1526.7,543.5 1521.9,543.7 1517.0,544.2 1512.2,545.0 1507.3,546.2 1502.4,547.3 1497.6,548.2 1492.7,549.1 1487.9,550.5 1483.0,552.3 1478.1,554.0 1473.3,554.2 1468.4,554.3 1463.5,554.7 1458.7,555.3 1453.8,556.1 1449.0,556.9 1444.1,558.6 1439.2,561.7 1434.4,563.8 1429.5,564.4 1424.6,566.9 1419.8,570.9 1414.9,575.7 1410.1,578.2 1405.2,582.2 1400.3,587.1 1395.5,592.8 1390.6,598.9 1385.8,605.6 1380.9,609.7 1376.0,613.4 1371.2,618.2 1366.3,621.6 1361.4,627.8 1356.6,633.7 1351.7,636.8 1346.9,644.2 1342.0,650.6 1337.1,657.3 1332.3,664.6 1327.4,667.3 1322.5,672.3 1317.7,680.5 1312.8,688.7 1308.0,696.8 1303.1,705.0 1298.2,712.8 1293.4,720.9 1288.5,730.8 1283.6,739.8 1278.8,758.0 1273.9,778.6 1269.1,807.2 1264.2,876.2"/><polyline fill="none" stroke="#1f77b4" stroke-opacity="0.32" stroke-width="1.6" stroke-linejoin="round" points="1264.2,876.2 1264.2,876.2 1265.0,830.2 1265.0,823.7 1265.5,823.7 1265.5,817.2 1265.9,817.2 1265.9,810.8 1266.4,810.8 1266.4,804.3 1266.9,804.3 1266.9,797.8 1267.4,797.8 1267.4,791.3 1267.9,791.3 1267.9,784.8 1269.2,784.8 1269.2,778.3 1270.5,778.3 1270.5,771.8 1271.8,771.8 1271.8,764.5 1272.5,764.5 1272.5,757.2 1273.2,757.2 1273.2,749.9 1274.0,749.9 1274.0,742.6 1274.7,742.6 1276.6,732.9 1278.6,715.4 1278.6,710.5 1280.1,710.5 1280.1,705.7 1281.5,705.7 1283.5,701.8 1283.5,697.9 1289.3,697.9 1291.4,694.9 1291.4,680.1 1299.2,680.1 1299.2,676.2 1302.1,676.2 1302.1,672.3 1306.0,672.3 1306.0,667.4 1308.5,667.4 1308.5,662.5 1310.9,662.5 1310.9,658.6 1316.8,658.6 1322.7,658.6 1322.7,654.7 1324.6,654.7 1324.6,650.8 1326.6,650.8 1329.5,648.8 1338.3,648.8 1338.3,642.0 1341.2,642.0 1341.2,635.1 1344.2,635.1 1344.2,629.3 1353.9,629.3 1353.9,625.3 1359.8,625.3 1359.8,620.9 1362.7,620.9 1362.7,616.5 1365.7,616.5 1365.7,611.7 1369.6,611.7 1369.6,606.4 1370.9,606.4 1370.9,601.2 1372.2,601.2 1372.2,596.0 1373.5,596.0 1383.3,594.1 1385.2,589.2 1389.1,588.2 1406.7,588.2 1406.7,581.0 1408.0,581.0 1408.0,573.9 1409.3,573.9 1409.3,566.7 1410.6,566.7 1412.6,562.8 1420.4,560.8 1426.3,558.9 1461.5,558.9 1462.4,554.0 1486.0,553.8 1508.0,553.8 1548.3,553.8 1548.3,548.5 1560.3,548.5 1560.3,542.5 1613.6,542.5 1613.6,536.5 1675.1,536.5 1675.1,531.2 1750.4,531.2 1750.4,531.2"/><polyline fill="none" stroke="#ff7f0e" stroke-opacity="0.32" stroke-width="1.6" stroke-linejoin="round" points="1264.2,876.2 1264.2,876.2 1265.0,810.8 1265.9,787.4 1268.9,785.5 1268.9,779.6 1270.1,779.6 1270.1,773.8 1271.3,773.8 1271.3,767.9 1272.5,767.9 1272.5,762.1 1273.7,762.1 1273.7,756.3 1275.0,756.3 1275.0,750.4 1276.3,750.4 1276.3,744.6 1277.6,744.6 1277.6,739.7 1279.6,739.7 1279.6,734.9 1281.5,734.9 1281.5,729.0 1285.4,729.0 1285.4,724.2 1288.3,724.2 1288.3,719.3 1291.2,719.3 1291.2,715.4 1299.0,715.4 1299.0,710.2 1301.6,710.2 1301.6,705.0 1304.2,705.0 1304.2,699.8 1306.8,699.8 1306.8,693.8 1310.9,693.8 1317.8,692.8 1319.7,682.0 1319.7,676.2 1322.7,676.2 1324.6,668.4 1336.3,668.4 1337.3,662.5 1339.3,654.7 1339.3,649.8 1341.2,649.8 1341.2,644.9 1343.2,644.9 1350.0,642.9 1352.0,635.1 1352.0,632.2 1355.9,632.2 1355.9,627.8 1361.8,627.8 1361.8,623.4 1367.6,623.4 1367.6,618.5 1377.4,618.5 1377.4,614.1 1379.3,614.1 1379.3,609.7 1381.3,609.7 1381.3,605.8 1385.2,605.8 1385.2,601.9 1389.1,601.9 1389.1,596.0 1393.0,596.0 1393.0,590.2 1396.0,590.2 1396.0,584.3 1398.9,584.3 1400.9,576.5 1400.9,572.6 1404.8,572.6 1405.7,555.9 1418.4,555.9 1418.4,551.1 1428.2,551.1 1453.6,550.1 1455.6,545.2 1455.6,544.2 1464.7,544.2 1464.7,543.2 1473.8,543.2 1473.8,542.3 1483.0,542.3 1484.9,535.4 1486.0,535.4 1508.0,534.4 1516.0,534.4 1613.6,534.4 1667.6,534.4 1667.6,531.2 1675.1,531.2 1750.4,531.2 1750.4,531.2"/><polyline fill="none" stroke="#2ca02c" stroke-opacity="0.32" stroke-width="1.6" stroke-linejoin="round" points="1264.2,876.2 1264.2,876.2 1265.9,859.4 1267.9,843.8 1268.9,818.5 1268.9,812.7 1271.8,812.7 1271.8,775.7 1273.7,767.9 1275.7,758.2 1277.6,750.4 1279.6,738.8 1281.5,721.2 1283.5,713.5 1283.5,709.6 1285.4,709.6 1285.4,705.7 1287.4,705.7 1289.3,701.8 1289.3,697.9 1293.2,697.9 1293.2,691.9 1295.7,691.9 1295.7,686.0 1298.2,686.0 1298.2,680.1 1303.1,680.1 1303.1,675.2 1305.1,675.2 1305.1,670.3 1307.0,670.3 1307.0,666.4 1309.0,666.4 1309.0,662.5 1310.9,662.5 1315.8,660.5 1315.8,655.7 1317.8,655.7 1317.8,650.8 1319.7,650.8 1319.7,645.5 1320.7,645.5 1320.7,640.3 1321.7,640.3 1321.7,635.1 1322.7,635.1 1322.7,631.2 1326.6,631.2 1334.4,630.2 1336.3,625.3 1344.2,623.4 1345.1,619.5 1345.1,612.6 1348.1,612.6 1350.0,594.1 1363.7,593.1 1365.7,584.3 1367.6,582.3 1375.4,581.4 1377.4,572.6 1377.4,568.7 1381.3,568.7 1387.2,567.7 1388.1,562.8 1395.0,561.8 1396.0,555.9 1416.5,555.0 1418.4,549.1 1420.4,543.2 1425.3,542.3 1426.3,536.4 1438.0,536.4 1438.0,531.2 1508.0,531.2 1750.4,531.2"/><polyline fill="none" stroke="#d62728" stroke-opacity="0.32" stroke-width="1.6" stroke-linejoin="round" points="1264.2,876.2 1264.2,876.2 1265.0,830.2 1265.9,781.6 1265.9,774.3 1266.7,774.3 1266.7,767.0 1267.4,767.0 1267.4,759.7 1268.1,759.7 1268.1,752.4 1268.9,752.4 1273.7,752.4 1274.7,748.5 1274.7,744.6 1276.2,744.6 1276.2,740.7 1277.6,740.7 1280.5,740.7 1281.5,732.9 1283.5,729.0 1285.4,725.1 1285.4,720.3 1290.3,720.3 1290.3,717.4 1295.1,717.4 1299.0,715.4 1299.0,711.5 1302.9,711.5 1308.8,709.6 1309.7,705.7 1310.7,695.9 1310.7,690.7 1312.7,690.7 1312.7,685.4 1314.8,685.4 1314.8,680.1 1316.8,680.1 1316.8,674.2 1319.7,674.2 1319.7,669.3 1322.2,669.3 1322.2,664.4 1324.6,664.4 1331.4,662.5 1331.4,656.6 1333.4,656.6 1333.4,650.8 1335.4,650.8 1338.3,648.8 1338.3,644.9 1342.2,644.9 1342.2,640.0 1344.2,640.0 1344.2,635.1 1346.1,635.1 1355.9,634.1 1357.8,627.3 1363.7,625.3 1363.7,621.4 1365.7,621.4 1365.7,617.5 1367.6,617.5 1387.2,616.5 1389.1,606.8 1396.9,605.8 1398.9,594.1 1400.9,583.3 1412.6,582.3 1414.5,577.4 1420.4,576.5 1421.4,572.6 1421.4,568.7 1426.3,568.7 1439.0,568.7 1440.0,560.8 1441.9,552.0 1453.6,551.1 1484.9,549.1 1484.9,542.3 1486.9,542.3 1486.9,535.4 1488.8,535.4 1498.6,535.4 1498.6,531.2 1501.5,531.2 1508.0,531.2 1750.4,531.2"/><polyline fill="none" stroke="#9467bd" stroke-opacity="0.32" stroke-width="1.6" stroke-linejoin="round" points="1264.2,876.2 1264.2,876.2 1265.9,820.5 1267.9,795.2 1267.9,788.7 1269.2,788.7 1269.2,782.2 1270.5,782.2 1270.5,775.7 1271.8,775.7 1271.8,769.9 1275.7,769.9 1275.7,762.8 1276.6,762.8 1276.6,755.6 1277.6,755.6 1277.6,748.5 1278.6,748.5 1279.6,736.8 1279.6,732.9 1283.5,732.9 1283.5,729.0 1287.4,729.0 1287.4,725.1 1289.3,725.1 1289.3,721.2 1291.2,721.2 1291.2,717.4 1293.2,717.4 1293.2,713.5 1295.1,713.5 1295.3,688.9 1299.0,688.9 1302.9,688.9 1303.1,687.9 1303.1,682.0 1305.1,682.0 1305.1,676.2 1307.0,676.2 1307.0,670.3 1312.9,670.3 1312.9,663.5 1314.3,663.5 1314.3,656.6 1315.8,656.6 1316.8,644.9 1316.8,638.1 1318.7,638.1 1318.7,631.2 1320.7,631.2 1322.7,616.5 1337.3,616.5 1338.3,603.8 1340.2,597.0 1344.2,596.0 1346.1,590.2 1361.8,590.2 1362.7,584.3 1362.7,578.4 1365.7,578.4 1375.4,577.4 1376.4,570.6 1382.3,569.6 1382.3,564.7 1385.2,564.7 1389.1,562.8 1418.4,562.8 1420.4,559.9 1420.4,555.0 1428.9,555.0 1428.9,550.1 1437.3,550.1 1437.3,545.2 1445.8,545.2 1486.0,545.2 1492.0,545.2 1492.0,544.8 1505.5,544.0 1506.3,541.0 1515.3,539.5 1515.3,531.3 1675.1,531.2 1750.4,531.2 1750.4,531.2"/><polyline fill="none" stroke="#8a4f43" stroke-opacity="1" stroke-width="2.0" stroke-linejoin="round" stroke-linecap="round" points="1264.2,876.2 1269.1,789.9 1273.9,761.3 1278.8,741.9 1283.6,724.8 1288.5,717.0 1293.4,707.3 1298.2,699.6 1303.1,692.0 1308.0,684.1 1312.8,674.3 1317.7,664.6 1322.5,654.9 1327.4,648.3 1332.3,645.9 1337.1,638.8 1342.0,632.5 1346.9,626.2 1351.7,619.3 1356.6,616.6 1361.4,611.1 1366.3,605.4 1371.2,601.7 1376.0,596.7 1380.9,592.7 1385.8,588.3 1390.6,582.9 1395.5,577.9 1400.3,573.4 1405.2,569.8 1410.1,566.1 1414.9,564.0 1419.8,559.5 1424.6,555.9 1429.5,553.7 1434.4,553.4 1439.2,551.5 1444.1,548.6 1449.0,547.1 1453.8,546.4 1458.7,545.9 1463.5,545.4 1468.4,545.2 1473.3,545.2 1478.1,545.2 1483.0,543.7 1487.9,542.0 1492.7,540.8 1497.6,540.1 1502.4,539.4 1507.3,538.5 1512.2,537.4 1517.0,536.8 1521.9,536.5 1526.7,536.4 1531.6,536.4 1536.5,536.3 1541.3,536.2 1546.2,535.6 1551.1,534.9 1555.9,534.8 1560.8,534.3 1565.6,533.8 1570.5,533.8 1575.4,533.7 1580.2,533.7 1585.1,533.7 1590.0,533.7 1594.8,533.6 1599.7,533.6 1604.5,533.6 1609.4,533.5 1614.3,533.3 1619.1,532.3 1624.0,532.3 1628.8,532.3 1633.7,532.3 1638.6,532.3 1643.4,532.3 1648.3,532.3 1653.2,532.3 1658.0,532.3 1662.9,532.3 1667.7,532.1 1672.6,531.7 1677.5,531.2 1682.3,531.2 1687.2,531.2 1692.1,531.2 1696.9,531.2 1701.8,531.2 1706.6,531.2 1711.5,531.2 1716.4,531.2 1721.2,531.2 1726.1,531.2 1731.0,531.2 1735.8,531.2 1740.7,531.2 1745.5,531.2 1750.4,531.2"/></g><rect x="1264.20" y="514.00" width="486.20" height="362.20" fill="none" stroke="#222" stroke-width="1.35"/><path d="M1264.20 876.20V881.10M1264.20 876.20H1259.30M1361.44 876.20V881.10M1264.20 807.21H1259.30M1458.68 876.20V881.10M1264.20 738.22H1259.30M1555.92 876.20V881.10M1264.20 669.23H1259.30M1653.16 876.20V881.10M1264.20 600.24H1259.30M1750.40 876.20V881.10M1264.20 531.25H1259.30" stroke="#222" stroke-width="1.35" fill="none"/><text class="tk" transform="translate(1264.20,904.00) scale(1,1.045)" text-anchor="middle">0.0</text><text class="tk" transform="translate(1254.30,885.30) scale(1,1.045)" text-anchor="end">0.0</text><text class="tk" transform="translate(1361.44,904.00) scale(1,1.045)" text-anchor="middle">0.2</text><text class="tk" transform="translate(1254.30,816.31) scale(1,1.045)" text-anchor="end">0.2</text><text class="tk" transform="translate(1458.68,904.00) scale(1,1.045)" text-anchor="middle">0.4</text><text class="tk" transform="translate(1254.30,747.32) scale(1,1.045)" text-anchor="end">0.4</text><text class="tk" transform="translate(1555.92,904.00) scale(1,1.045)" text-anchor="middle">0.6</text><text class="tk" transform="translate(1254.30,678.33) scale(1,1.045)" text-anchor="end">0.6</text><text class="tk" transform="translate(1653.16,904.00) scale(1,1.045)" text-anchor="middle">0.8</text><text class="tk" transform="translate(1254.30,609.34) scale(1,1.045)" text-anchor="end">0.8</text><text class="tk" transform="translate(1750.40,904.00) scale(1,1.045)" text-anchor="middle">1.0</text><text class="tk" transform="translate(1254.30,540.35) scale(1,1.045)" text-anchor="end">1.0</text><text class="lb" transform="translate(1503.90,938.50) scale(1,1.025)" text-anchor="middle">False Positive Rate</text><text class="lb" transform="translate(1215.40,699.55) rotate(-90) scale(1,1.025)" text-anchor="middle">True Positive Rate</text><text class="pl" x="1233.92" y="505.00">F</text><rect x="1375.87" y="720.20" width="366.88" height="147.40" rx="3.5" fill="#fff" fill-opacity="0.8" stroke="#d4d4d4" stroke-width="1.3"/><line x1="1381.37" x2="1415.67" y1="733.00" y2="733.00" stroke="#1f77b4" stroke-opacity="0.32" stroke-width="1.7"/><text class="lg" transform="translate(1428.47,739.60) scale(1,1.04)">Ensemble Model Fold 1 (AUC = 0.87)</text><line x1="1381.37" x2="1415.67" y1="756.78" y2="756.78" stroke="#ff7f0e" stroke-opacity="0.32" stroke-width="1.7"/><text class="lg" transform="translate(1428.47,763.38) scale(1,1.04)">Ensemble Model Fold 2 (AUC = 0.87)</text><line x1="1381.37" x2="1415.67" y1="780.56" y2="780.56" stroke="#2ca02c" stroke-opacity="0.32" stroke-width="1.7"/><text class="lg" transform="translate(1428.47,787.16) scale(1,1.04)">Ensemble Model Fold 3 (AUC = 0.90)</text><line x1="1381.37" x2="1415.67" y1="804.34" y2="804.34" stroke="#d62728" stroke-opacity="0.32" stroke-width="1.7"/><text class="lg" transform="translate(1428.47,810.94) scale(1,1.04)">Ensemble Model Fold 4 (AUC = 0.87)</text><line x1="1381.37" x2="1415.67" y1="828.12" y2="828.12" stroke="#9467bd" stroke-opacity="0.32" stroke-width="1.7"/><text class="lg" transform="translate(1428.47,834.72) scale(1,1.04)">Ensemble Model Fold 5 (AUC = 0.89)</text><line x1="1381.37" x2="1415.67" y1="851.90" y2="851.90" stroke="#8a4f43" stroke-opacity="1" stroke-width="2.0"/><text class="lg" transform="translate(1428.47,858.50) scale(1,1.04)">Ensemble Model (AUC = 0.88 &#177; 0.01)</text></g>
</svg></body></html>
